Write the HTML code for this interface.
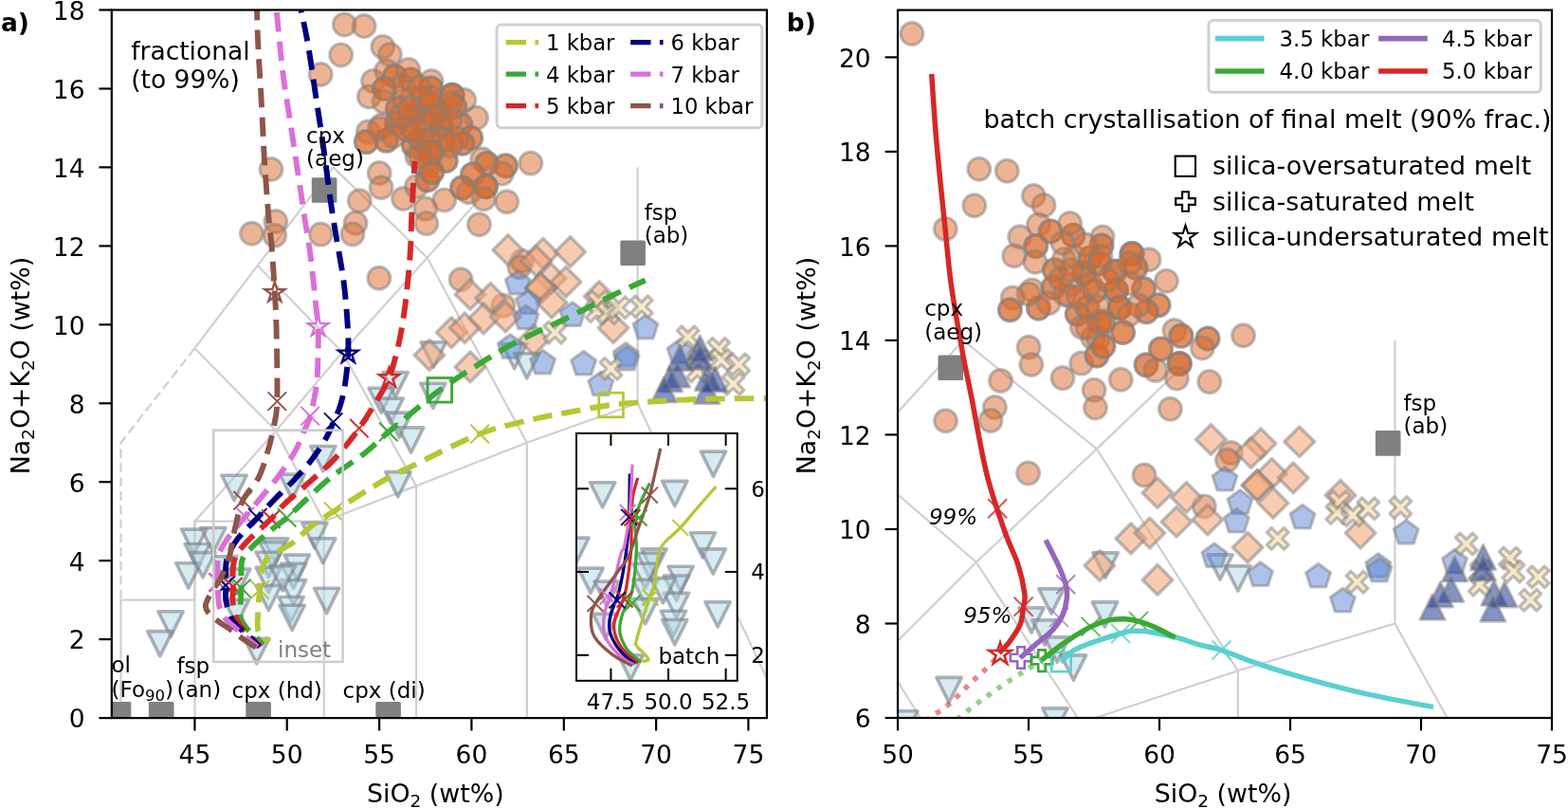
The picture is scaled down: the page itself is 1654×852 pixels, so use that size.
<!DOCTYPE html>
<html><head><meta charset="utf-8"><title>TAS diagram</title>
<style>html,body{margin:0;padding:0;background:#fff;} svg{display:block;}</style>
</head><body>
<svg width="1654" height="852" viewBox="0 0 1654 852" font-family="'DejaVu Sans', 'Liberation Sans', sans-serif">
<defs>
<clipPath id="ca"><rect x="117.8" y="10.5" width="691.1" height="746.6"/></clipPath>
<clipPath id="cb"><rect x="947.0" y="10.6" width="690.0" height="746.4"/></clipPath>
</defs>
<rect width="1654" height="852" fill="#fff"/>
<g clip-path="url(#ca)" fill="none" stroke="#cfcfcf" stroke-width="2.2" stroke-linejoin="round">
<polyline points="127.5,757.1 127.5,632.7 205.4,632.7"/>
<polyline points="205.4,757.1 205.4,549.7 341.7,549.7 341.7,757.1"/>
<polyline points="341.7,549.7 439.0,512.4 439.0,757.1"/>
<polyline points="439.0,512.4 555.8,466.8 555.8,757.1"/>
<polyline points="555.8,466.8 672.6,425.3 828.4,757.1"/>
<polyline points="672.6,425.3 672.6,176.4"/>
<polyline points="205.4,549.7 291.1,454.3 341.7,549.7"/>
<polyline points="291.1,454.3 361.1,371.4 439.0,512.4"/>
<polyline points="361.1,371.4 450.7,271.8 555.8,466.8"/>
<polyline points="205.4,367.2 291.1,454.3"/>
<polyline points="205.4,367.2 271.6,280.1 361.1,371.4"/>
<polyline points="271.6,280.1 351.4,176.4 450.7,271.8 516.9,197.1"/>
<polyline points="205.4,632.7 205.4,549.7"/>
<polyline points="205.4,367.2 127.5,466.8 127.5,632.7" stroke-dasharray="9.8,5"/>
</g>
<rect clip-path="url(#ca)" x="111.7" y="740.1" width="26.6" height="26.6" rx="1.5" fill="#808080"/>
<rect clip-path="url(#ca)" x="156.9" y="740.1" width="26.6" height="26.6" rx="1.5" fill="#808080"/>
<rect clip-path="url(#ca)" x="259.3" y="740.1" width="26.6" height="26.6" rx="1.5" fill="#808080"/>
<rect clip-path="url(#ca)" x="396.3" y="740.1" width="26.6" height="26.6" rx="1.5" fill="#808080"/>
<rect clip-path="url(#ca)" x="328.8" y="187.2" width="26.6" height="26.6" rx="1.5" fill="#808080"/>
<rect clip-path="url(#ca)" x="654.3" y="253.5" width="26.6" height="26.6" rx="1.5" fill="#808080"/>
<g clip-path="url(#cb)" fill="none" stroke="#cfcfcf" stroke-width="2.2" stroke-linejoin="round">
<polyline points="698.6,1055.6 698.6,906.3 809.0,906.3"/>
<polyline points="809.0,1055.6 809.0,806.8 1002.2,806.8 1002.2,1055.6"/>
<polyline points="1002.2,806.8 1140.2,762.0 1140.2,1055.6"/>
<polyline points="1140.2,762.0 1305.8,707.2 1305.8,1055.6"/>
<polyline points="1305.8,707.2 1471.4,657.5 1692.2,1055.6"/>
<polyline points="1471.4,657.5 1471.4,358.9"/>
<polyline points="809.0,806.8 930.4,692.3 1002.2,806.8"/>
<polyline points="930.4,692.3 1029.8,592.8 1140.2,762.0"/>
<polyline points="1029.8,592.8 1156.8,473.4 1305.8,707.2"/>
<polyline points="809.0,587.8 930.4,692.3"/>
<polyline points="809.0,587.8 902.8,483.3 1029.8,592.8"/>
<polyline points="902.8,483.3 1016.0,358.9 1156.8,473.4 1250.6,383.8"/>
<polyline points="809.0,906.3 809.0,806.8"/>
<polyline points="809.0,587.8 698.6,707.2 698.6,906.3" stroke-dasharray="9.8,5"/>
</g>
<rect clip-path="url(#cb)" x="989.5" y="374.5" width="26.6" height="26.6" rx="1.5" fill="#808080"/>
<rect clip-path="url(#cb)" x="1450.9" y="454.1" width="26.6" height="26.6" rx="1.5" fill="#808080"/>
<g clip-path="url(#ca)">
<polygon points="340.8,496.8 327.7,470.5 354.0,470.5" fill="#add8e6" fill-opacity="0.5" stroke="#7a8088" stroke-opacity="0.6" stroke-linejoin="round" stroke-width="3.6"/>
<polygon points="417.0,418.9 403.9,392.6 430.2,392.6" fill="#add8e6" fill-opacity="0.5" stroke="#7a8088" stroke-opacity="0.6" stroke-linejoin="round" stroke-width="3.6"/>
<polygon points="402.2,435.5 389.0,409.2 415.3,409.2" fill="#add8e6" fill-opacity="0.5" stroke="#7a8088" stroke-opacity="0.6" stroke-linejoin="round" stroke-width="3.6"/>
<polygon points="412.1,446.4 398.9,420.1 425.2,420.1" fill="#add8e6" fill-opacity="0.5" stroke="#7a8088" stroke-opacity="0.6" stroke-linejoin="round" stroke-width="3.6"/>
<polygon points="421.2,461.4 408.1,435.1 434.4,435.1" fill="#add8e6" fill-opacity="0.5" stroke="#7a8088" stroke-opacity="0.6" stroke-linejoin="round" stroke-width="3.6"/>
<polygon points="433.5,477.2 420.4,450.9 446.7,450.9" fill="#add8e6" fill-opacity="0.5" stroke="#7a8088" stroke-opacity="0.6" stroke-linejoin="round" stroke-width="3.6"/>
<polygon points="419.8,523.9 406.7,497.6 433.0,497.6" fill="#add8e6" fill-opacity="0.5" stroke="#7a8088" stroke-opacity="0.6" stroke-linejoin="round" stroke-width="3.6"/>
<polygon points="456.9,430.5 443.7,404.2 470.0,404.2" fill="#add8e6" fill-opacity="0.5" stroke="#7a8088" stroke-opacity="0.6" stroke-linejoin="round" stroke-width="3.6"/>
<polygon points="457.2,387.2 444.1,360.9 470.4,360.9" fill="#add8e6" fill-opacity="0.5" stroke="#7a8088" stroke-opacity="0.6" stroke-linejoin="round" stroke-width="3.6"/>
<polygon points="542.6,388.8 529.4,362.5 555.7,362.5" fill="#add8e6" fill-opacity="0.5" stroke="#7a8088" stroke-opacity="0.6" stroke-linejoin="round" stroke-width="3.6"/>
<polygon points="555.8,398.9 542.7,372.6 569.0,372.6" fill="#add8e6" fill-opacity="0.5" stroke="#7a8088" stroke-opacity="0.6" stroke-linejoin="round" stroke-width="3.6"/>
<polygon points="247.1,527.6 233.9,501.3 260.2,501.3" fill="#add8e6" fill-opacity="0.5" stroke="#7a8088" stroke-opacity="0.6" stroke-linejoin="round" stroke-width="3.6"/>
<polygon points="308.2,526.4 295.0,500.1 321.3,500.1" fill="#add8e6" fill-opacity="0.5" stroke="#7a8088" stroke-opacity="0.6" stroke-linejoin="round" stroke-width="3.6"/>
<polygon points="331.9,577.8 318.8,551.5 345.1,551.5" fill="#add8e6" fill-opacity="0.5" stroke="#7a8088" stroke-opacity="0.6" stroke-linejoin="round" stroke-width="3.6"/>
<polygon points="340.7,594.0 327.6,567.7 353.9,567.7" fill="#add8e6" fill-opacity="0.5" stroke="#7a8088" stroke-opacity="0.6" stroke-linejoin="round" stroke-width="3.6"/>
<polygon points="236.9,613.0 223.8,586.7 250.1,586.7" fill="#add8e6" fill-opacity="0.5" stroke="#7a8088" stroke-opacity="0.6" stroke-linejoin="round" stroke-width="3.6"/>
<polygon points="290.7,594.0 277.5,567.7 303.8,567.7" fill="#add8e6" fill-opacity="0.5" stroke="#7a8088" stroke-opacity="0.6" stroke-linejoin="round" stroke-width="3.6"/>
<polygon points="287.0,598.1 273.8,571.8 300.1,571.8" fill="#add8e6" fill-opacity="0.5" stroke="#7a8088" stroke-opacity="0.6" stroke-linejoin="round" stroke-width="3.6"/>
<polygon points="283.3,608.5 270.1,582.2 296.4,582.2" fill="#add8e6" fill-opacity="0.5" stroke="#7a8088" stroke-opacity="0.6" stroke-linejoin="round" stroke-width="3.6"/>
<polygon points="313.3,611.4 300.1,585.1 326.4,585.1" fill="#add8e6" fill-opacity="0.5" stroke="#7a8088" stroke-opacity="0.6" stroke-linejoin="round" stroke-width="3.6"/>
<polygon points="309.6,620.5 296.4,594.2 322.7,594.2" fill="#add8e6" fill-opacity="0.5" stroke="#7a8088" stroke-opacity="0.6" stroke-linejoin="round" stroke-width="3.6"/>
<polygon points="283.3,624.7 270.1,598.4 296.4,598.4" fill="#add8e6" fill-opacity="0.5" stroke="#7a8088" stroke-opacity="0.6" stroke-linejoin="round" stroke-width="3.6"/>
<polygon points="309.6,637.9 296.4,611.6 322.7,611.6" fill="#add8e6" fill-opacity="0.5" stroke="#7a8088" stroke-opacity="0.6" stroke-linejoin="round" stroke-width="3.6"/>
<polygon points="283.3,643.7 270.1,617.4 296.4,617.4" fill="#add8e6" fill-opacity="0.5" stroke="#7a8088" stroke-opacity="0.6" stroke-linejoin="round" stroke-width="3.6"/>
<polygon points="344.6,646.6 331.4,620.3 357.7,620.3" fill="#add8e6" fill-opacity="0.5" stroke="#7a8088" stroke-opacity="0.6" stroke-linejoin="round" stroke-width="3.6"/>
<polygon points="307.0,655.8 293.9,629.5 320.2,629.5" fill="#add8e6" fill-opacity="0.5" stroke="#7a8088" stroke-opacity="0.6" stroke-linejoin="round" stroke-width="3.6"/>
<polygon points="308.2,664.5 295.0,638.2 321.3,638.2" fill="#add8e6" fill-opacity="0.5" stroke="#7a8088" stroke-opacity="0.6" stroke-linejoin="round" stroke-width="3.6"/>
<polygon points="250.8,626.3 237.6,600.0 263.9,600.0" fill="#add8e6" fill-opacity="0.5" stroke="#7a8088" stroke-opacity="0.6" stroke-linejoin="round" stroke-width="3.6"/>
<polygon points="249.6,658.7 236.4,632.4 262.7,632.4" fill="#add8e6" fill-opacity="0.5" stroke="#7a8088" stroke-opacity="0.6" stroke-linejoin="round" stroke-width="3.6"/>
<polygon points="270.8,699.7 257.7,673.4 284.0,673.4" fill="#add8e6" fill-opacity="0.5" stroke="#7a8088" stroke-opacity="0.6" stroke-linejoin="round" stroke-width="3.6"/>
<polygon points="298.3,623.0 285.1,596.7 311.4,596.7" fill="#add8e6" fill-opacity="0.5" stroke="#7a8088" stroke-opacity="0.6" stroke-linejoin="round" stroke-width="3.6"/>
<polygon points="224.9,582.8 211.7,556.5 238.0,556.5" fill="#add8e6" fill-opacity="0.5" stroke="#7a8088" stroke-opacity="0.6" stroke-linejoin="round" stroke-width="3.6"/>
<polygon points="204.6,584.4 191.5,558.1 217.8,558.1" fill="#add8e6" fill-opacity="0.5" stroke="#7a8088" stroke-opacity="0.6" stroke-linejoin="round" stroke-width="3.6"/>
<polygon points="208.1,599.8 195.0,573.5 221.3,573.5" fill="#add8e6" fill-opacity="0.5" stroke="#7a8088" stroke-opacity="0.6" stroke-linejoin="round" stroke-width="3.6"/>
<polygon points="198.8,620.1 185.6,593.8 211.9,593.8" fill="#add8e6" fill-opacity="0.5" stroke="#7a8088" stroke-opacity="0.6" stroke-linejoin="round" stroke-width="3.6"/>
<polygon points="214.0,608.9 200.8,582.6 227.1,582.6" fill="#add8e6" fill-opacity="0.5" stroke="#7a8088" stroke-opacity="0.6" stroke-linejoin="round" stroke-width="3.6"/>
<polygon points="180.1,671.1 166.9,644.8 193.2,644.8" fill="#add8e6" fill-opacity="0.5" stroke="#7a8088" stroke-opacity="0.6" stroke-linejoin="round" stroke-width="3.6"/>
<polygon points="168.8,691.9 155.7,665.6 182.0,665.6" fill="#add8e6" fill-opacity="0.5" stroke="#7a8088" stroke-opacity="0.6" stroke-linejoin="round" stroke-width="3.6"/>
<circle cx="313.3" cy="-93.2" r="11.90" fill="#d9692c" fill-opacity="0.5" stroke="#808080" stroke-opacity="0.5" stroke-linejoin="round" stroke-width="3.2"/>
<circle cx="363.3" cy="25.9" r="11.90" fill="#d9692c" fill-opacity="0.5" stroke="#808080" stroke-opacity="0.5" stroke-linejoin="round" stroke-width="3.2"/>
<circle cx="384.1" cy="27.5" r="11.90" fill="#d9692c" fill-opacity="0.5" stroke="#808080" stroke-opacity="0.5" stroke-linejoin="round" stroke-width="3.2"/>
<circle cx="359.7" cy="57.9" r="11.90" fill="#d9692c" fill-opacity="0.5" stroke="#808080" stroke-opacity="0.5" stroke-linejoin="round" stroke-width="3.2"/>
<circle cx="338.2" cy="78.5" r="11.90" fill="#d9692c" fill-opacity="0.5" stroke="#808080" stroke-opacity="0.5" stroke-linejoin="round" stroke-width="3.2"/>
<circle cx="403.8" cy="49.4" r="11.90" fill="#d9692c" fill-opacity="0.5" stroke="#808080" stroke-opacity="0.5" stroke-linejoin="round" stroke-width="3.2"/>
<circle cx="411.4" cy="57.6" r="11.90" fill="#d9692c" fill-opacity="0.5" stroke="#808080" stroke-opacity="0.5" stroke-linejoin="round" stroke-width="3.2"/>
<circle cx="393.5" cy="85.5" r="11.90" fill="#d9692c" fill-opacity="0.5" stroke="#808080" stroke-opacity="0.5" stroke-linejoin="round" stroke-width="3.2"/>
<circle cx="389.3" cy="102.0" r="11.90" fill="#d9692c" fill-opacity="0.5" stroke="#808080" stroke-opacity="0.5" stroke-linejoin="round" stroke-width="3.2"/>
<circle cx="407.5" cy="74.7" r="11.90" fill="#d9692c" fill-opacity="0.5" stroke="#808080" stroke-opacity="0.5" stroke-linejoin="round" stroke-width="3.2"/>
<circle cx="416.4" cy="80.5" r="11.90" fill="#d9692c" fill-opacity="0.5" stroke="#808080" stroke-opacity="0.5" stroke-linejoin="round" stroke-width="3.2"/>
<circle cx="416.4" cy="80.5" r="11.90" fill="#d9692c" fill-opacity="0.5" stroke="#808080" stroke-opacity="0.5" stroke-linejoin="round" stroke-width="3.2"/>
<circle cx="433.3" cy="84.1" r="11.90" fill="#d9692c" fill-opacity="0.5" stroke="#808080" stroke-opacity="0.5" stroke-linejoin="round" stroke-width="3.2"/>
<circle cx="433.3" cy="84.1" r="11.90" fill="#d9692c" fill-opacity="0.5" stroke="#808080" stroke-opacity="0.5" stroke-linejoin="round" stroke-width="3.2"/>
<circle cx="430.8" cy="73.5" r="11.90" fill="#d9692c" fill-opacity="0.5" stroke="#808080" stroke-opacity="0.5" stroke-linejoin="round" stroke-width="3.2"/>
<circle cx="405.5" cy="93.5" r="11.90" fill="#d9692c" fill-opacity="0.5" stroke="#808080" stroke-opacity="0.5" stroke-linejoin="round" stroke-width="3.2"/>
<circle cx="405.5" cy="93.5" r="11.90" fill="#d9692c" fill-opacity="0.5" stroke="#808080" stroke-opacity="0.5" stroke-linejoin="round" stroke-width="3.2"/>
<circle cx="405.0" cy="107.5" r="11.90" fill="#d9692c" fill-opacity="0.5" stroke="#808080" stroke-opacity="0.5" stroke-linejoin="round" stroke-width="3.2"/>
<circle cx="419.4" cy="114.6" r="11.90" fill="#d9692c" fill-opacity="0.5" stroke="#808080" stroke-opacity="0.5" stroke-linejoin="round" stroke-width="3.2"/>
<circle cx="419.4" cy="114.6" r="11.90" fill="#d9692c" fill-opacity="0.5" stroke="#808080" stroke-opacity="0.5" stroke-linejoin="round" stroke-width="3.2"/>
<circle cx="418.4" cy="129.9" r="11.90" fill="#d9692c" fill-opacity="0.5" stroke="#808080" stroke-opacity="0.5" stroke-linejoin="round" stroke-width="3.2"/>
<circle cx="418.4" cy="129.9" r="11.90" fill="#d9692c" fill-opacity="0.5" stroke="#808080" stroke-opacity="0.5" stroke-linejoin="round" stroke-width="3.2"/>
<circle cx="455.1" cy="85.6" r="11.90" fill="#d9692c" fill-opacity="0.5" stroke="#808080" stroke-opacity="0.5" stroke-linejoin="round" stroke-width="3.2"/>
<circle cx="454.4" cy="93.1" r="11.90" fill="#d9692c" fill-opacity="0.5" stroke="#808080" stroke-opacity="0.5" stroke-linejoin="round" stroke-width="3.2"/>
<circle cx="454.4" cy="93.1" r="11.90" fill="#d9692c" fill-opacity="0.5" stroke="#808080" stroke-opacity="0.5" stroke-linejoin="round" stroke-width="3.2"/>
<circle cx="441.3" cy="117.0" r="11.90" fill="#d9692c" fill-opacity="0.5" stroke="#808080" stroke-opacity="0.5" stroke-linejoin="round" stroke-width="3.2"/>
<circle cx="441.3" cy="117.0" r="11.90" fill="#d9692c" fill-opacity="0.5" stroke="#808080" stroke-opacity="0.5" stroke-linejoin="round" stroke-width="3.2"/>
<circle cx="441.3" cy="117.0" r="11.90" fill="#d9692c" fill-opacity="0.5" stroke="#808080" stroke-opacity="0.5" stroke-linejoin="round" stroke-width="3.2"/>
<circle cx="464.1" cy="115.8" r="11.90" fill="#d9692c" fill-opacity="0.5" stroke="#808080" stroke-opacity="0.5" stroke-linejoin="round" stroke-width="3.2"/>
<circle cx="464.1" cy="115.8" r="11.90" fill="#d9692c" fill-opacity="0.5" stroke="#808080" stroke-opacity="0.5" stroke-linejoin="round" stroke-width="3.2"/>
<circle cx="464.1" cy="115.8" r="11.90" fill="#d9692c" fill-opacity="0.5" stroke="#808080" stroke-opacity="0.5" stroke-linejoin="round" stroke-width="3.2"/>
<circle cx="465.1" cy="132.2" r="11.90" fill="#d9692c" fill-opacity="0.5" stroke="#808080" stroke-opacity="0.5" stroke-linejoin="round" stroke-width="3.2"/>
<circle cx="465.1" cy="132.2" r="11.90" fill="#d9692c" fill-opacity="0.5" stroke="#808080" stroke-opacity="0.5" stroke-linejoin="round" stroke-width="3.2"/>
<circle cx="465.1" cy="132.2" r="11.90" fill="#d9692c" fill-opacity="0.5" stroke="#808080" stroke-opacity="0.5" stroke-linejoin="round" stroke-width="3.2"/>
<circle cx="407.5" cy="148.1" r="11.90" fill="#d9692c" fill-opacity="0.5" stroke="#808080" stroke-opacity="0.5" stroke-linejoin="round" stroke-width="3.2"/>
<circle cx="407.5" cy="148.1" r="11.90" fill="#d9692c" fill-opacity="0.5" stroke="#808080" stroke-opacity="0.5" stroke-linejoin="round" stroke-width="3.2"/>
<circle cx="402.5" cy="132.2" r="11.90" fill="#d9692c" fill-opacity="0.5" stroke="#808080" stroke-opacity="0.5" stroke-linejoin="round" stroke-width="3.2"/>
<circle cx="436.3" cy="153.4" r="11.90" fill="#d9692c" fill-opacity="0.5" stroke="#808080" stroke-opacity="0.5" stroke-linejoin="round" stroke-width="3.2"/>
<circle cx="436.3" cy="153.4" r="11.90" fill="#d9692c" fill-opacity="0.5" stroke="#808080" stroke-opacity="0.5" stroke-linejoin="round" stroke-width="3.2"/>
<circle cx="467.9" cy="147.7" r="11.90" fill="#d9692c" fill-opacity="0.5" stroke="#808080" stroke-opacity="0.5" stroke-linejoin="round" stroke-width="3.2"/>
<circle cx="467.9" cy="147.7" r="11.90" fill="#d9692c" fill-opacity="0.5" stroke="#808080" stroke-opacity="0.5" stroke-linejoin="round" stroke-width="3.2"/>
<circle cx="467.9" cy="147.7" r="11.90" fill="#d9692c" fill-opacity="0.5" stroke="#808080" stroke-opacity="0.5" stroke-linejoin="round" stroke-width="3.2"/>
<circle cx="449.2" cy="133.4" r="11.90" fill="#d9692c" fill-opacity="0.5" stroke="#808080" stroke-opacity="0.5" stroke-linejoin="round" stroke-width="3.2"/>
<circle cx="449.2" cy="133.4" r="11.90" fill="#d9692c" fill-opacity="0.5" stroke="#808080" stroke-opacity="0.5" stroke-linejoin="round" stroke-width="3.2"/>
<circle cx="477.0" cy="100.2" r="11.90" fill="#d9692c" fill-opacity="0.5" stroke="#808080" stroke-opacity="0.5" stroke-linejoin="round" stroke-width="3.2"/>
<circle cx="477.0" cy="100.2" r="11.90" fill="#d9692c" fill-opacity="0.5" stroke="#808080" stroke-opacity="0.5" stroke-linejoin="round" stroke-width="3.2"/>
<circle cx="477.0" cy="100.2" r="11.90" fill="#d9692c" fill-opacity="0.5" stroke="#808080" stroke-opacity="0.5" stroke-linejoin="round" stroke-width="3.2"/>
<circle cx="426.4" cy="105.2" r="11.90" fill="#d9692c" fill-opacity="0.5" stroke="#808080" stroke-opacity="0.5" stroke-linejoin="round" stroke-width="3.2"/>
<circle cx="434.3" cy="102.9" r="11.90" fill="#d9692c" fill-opacity="0.5" stroke="#808080" stroke-opacity="0.5" stroke-linejoin="round" stroke-width="3.2"/>
<circle cx="445.9" cy="104.0" r="11.90" fill="#d9692c" fill-opacity="0.5" stroke="#808080" stroke-opacity="0.5" stroke-linejoin="round" stroke-width="3.2"/>
<circle cx="445.9" cy="104.0" r="11.90" fill="#d9692c" fill-opacity="0.5" stroke="#808080" stroke-opacity="0.5" stroke-linejoin="round" stroke-width="3.2"/>
<circle cx="453.0" cy="109.0" r="11.90" fill="#d9692c" fill-opacity="0.5" stroke="#808080" stroke-opacity="0.5" stroke-linejoin="round" stroke-width="3.2"/>
<circle cx="453.0" cy="109.0" r="11.90" fill="#d9692c" fill-opacity="0.5" stroke="#808080" stroke-opacity="0.5" stroke-linejoin="round" stroke-width="3.2"/>
<circle cx="425.5" cy="90.9" r="11.90" fill="#d9692c" fill-opacity="0.5" stroke="#808080" stroke-opacity="0.5" stroke-linejoin="round" stroke-width="3.2"/>
<circle cx="430.4" cy="137.3" r="11.90" fill="#d9692c" fill-opacity="0.5" stroke="#808080" stroke-opacity="0.5" stroke-linejoin="round" stroke-width="3.2"/>
<circle cx="431.8" cy="127.3" r="11.90" fill="#d9692c" fill-opacity="0.5" stroke="#808080" stroke-opacity="0.5" stroke-linejoin="round" stroke-width="3.2"/>
<circle cx="489.7" cy="105.5" r="11.90" fill="#d9692c" fill-opacity="0.5" stroke="#808080" stroke-opacity="0.5" stroke-linejoin="round" stroke-width="3.2"/>
<circle cx="502.6" cy="124.2" r="11.90" fill="#d9692c" fill-opacity="0.5" stroke="#808080" stroke-opacity="0.5" stroke-linejoin="round" stroke-width="3.2"/>
<circle cx="485.8" cy="131.3" r="11.90" fill="#d9692c" fill-opacity="0.5" stroke="#808080" stroke-opacity="0.5" stroke-linejoin="round" stroke-width="3.2"/>
<circle cx="485.8" cy="131.3" r="11.90" fill="#d9692c" fill-opacity="0.5" stroke="#808080" stroke-opacity="0.5" stroke-linejoin="round" stroke-width="3.2"/>
<circle cx="496.7" cy="145.4" r="11.90" fill="#d9692c" fill-opacity="0.5" stroke="#808080" stroke-opacity="0.5" stroke-linejoin="round" stroke-width="3.2"/>
<circle cx="496.7" cy="145.4" r="11.90" fill="#d9692c" fill-opacity="0.5" stroke="#808080" stroke-opacity="0.5" stroke-linejoin="round" stroke-width="3.2"/>
<circle cx="487.8" cy="151.2" r="11.90" fill="#d9692c" fill-opacity="0.5" stroke="#808080" stroke-opacity="0.5" stroke-linejoin="round" stroke-width="3.2"/>
<circle cx="487.8" cy="151.2" r="11.90" fill="#d9692c" fill-opacity="0.5" stroke="#808080" stroke-opacity="0.5" stroke-linejoin="round" stroke-width="3.2"/>
<circle cx="470.3" cy="169.4" r="11.90" fill="#d9692c" fill-opacity="0.5" stroke="#808080" stroke-opacity="0.5" stroke-linejoin="round" stroke-width="3.2"/>
<circle cx="470.3" cy="169.4" r="11.90" fill="#d9692c" fill-opacity="0.5" stroke="#808080" stroke-opacity="0.5" stroke-linejoin="round" stroke-width="3.2"/>
<circle cx="455.9" cy="159.5" r="11.90" fill="#d9692c" fill-opacity="0.5" stroke="#808080" stroke-opacity="0.5" stroke-linejoin="round" stroke-width="3.2"/>
<circle cx="508.6" cy="167.7" r="11.90" fill="#d9692c" fill-opacity="0.5" stroke="#808080" stroke-opacity="0.5" stroke-linejoin="round" stroke-width="3.2"/>
<circle cx="513.6" cy="172.4" r="11.90" fill="#d9692c" fill-opacity="0.5" stroke="#808080" stroke-opacity="0.5" stroke-linejoin="round" stroke-width="3.2"/>
<circle cx="513.6" cy="172.4" r="11.90" fill="#d9692c" fill-opacity="0.5" stroke="#808080" stroke-opacity="0.5" stroke-linejoin="round" stroke-width="3.2"/>
<circle cx="533.4" cy="174.8" r="11.90" fill="#d9692c" fill-opacity="0.5" stroke="#808080" stroke-opacity="0.5" stroke-linejoin="round" stroke-width="3.2"/>
<circle cx="533.4" cy="174.8" r="11.90" fill="#d9692c" fill-opacity="0.5" stroke="#808080" stroke-opacity="0.5" stroke-linejoin="round" stroke-width="3.2"/>
<circle cx="529.4" cy="183.1" r="11.90" fill="#d9692c" fill-opacity="0.5" stroke="#808080" stroke-opacity="0.5" stroke-linejoin="round" stroke-width="3.2"/>
<circle cx="479.8" cy="112.5" r="11.90" fill="#d9692c" fill-opacity="0.5" stroke="#808080" stroke-opacity="0.5" stroke-linejoin="round" stroke-width="3.2"/>
<circle cx="479.8" cy="112.5" r="11.90" fill="#d9692c" fill-opacity="0.5" stroke="#808080" stroke-opacity="0.5" stroke-linejoin="round" stroke-width="3.2"/>
<circle cx="388.2" cy="139.1" r="11.90" fill="#d9692c" fill-opacity="0.5" stroke="#808080" stroke-opacity="0.5" stroke-linejoin="round" stroke-width="3.2"/>
<circle cx="386.3" cy="149.6" r="11.90" fill="#d9692c" fill-opacity="0.5" stroke="#808080" stroke-opacity="0.5" stroke-linejoin="round" stroke-width="3.2"/>
<circle cx="386.3" cy="149.6" r="11.90" fill="#d9692c" fill-opacity="0.5" stroke="#808080" stroke-opacity="0.5" stroke-linejoin="round" stroke-width="3.2"/>
<circle cx="400.2" cy="135.6" r="11.90" fill="#d9692c" fill-opacity="0.5" stroke="#808080" stroke-opacity="0.5" stroke-linejoin="round" stroke-width="3.2"/>
<circle cx="415.0" cy="143.7" r="11.90" fill="#d9692c" fill-opacity="0.5" stroke="#808080" stroke-opacity="0.5" stroke-linejoin="round" stroke-width="3.2"/>
<circle cx="439.9" cy="164.9" r="11.90" fill="#d9692c" fill-opacity="0.5" stroke="#808080" stroke-opacity="0.5" stroke-linejoin="round" stroke-width="3.2"/>
<circle cx="447.8" cy="174.2" r="11.90" fill="#d9692c" fill-opacity="0.5" stroke="#808080" stroke-opacity="0.5" stroke-linejoin="round" stroke-width="3.2"/>
<circle cx="400.2" cy="182.5" r="11.90" fill="#d9692c" fill-opacity="0.5" stroke="#808080" stroke-opacity="0.5" stroke-linejoin="round" stroke-width="3.2"/>
<circle cx="402.1" cy="197.7" r="11.90" fill="#d9692c" fill-opacity="0.5" stroke="#808080" stroke-opacity="0.5" stroke-linejoin="round" stroke-width="3.2"/>
<circle cx="379.3" cy="211.8" r="11.90" fill="#d9692c" fill-opacity="0.5" stroke="#808080" stroke-opacity="0.5" stroke-linejoin="round" stroke-width="3.2"/>
<circle cx="425.5" cy="209.5" r="11.90" fill="#d9692c" fill-opacity="0.5" stroke="#808080" stroke-opacity="0.5" stroke-linejoin="round" stroke-width="3.2"/>
<circle cx="439.4" cy="196.6" r="11.90" fill="#d9692c" fill-opacity="0.5" stroke="#808080" stroke-opacity="0.5" stroke-linejoin="round" stroke-width="3.2"/>
<circle cx="450.9" cy="189.8" r="11.90" fill="#d9692c" fill-opacity="0.5" stroke="#808080" stroke-opacity="0.5" stroke-linejoin="round" stroke-width="3.2"/>
<circle cx="450.9" cy="189.8" r="11.90" fill="#d9692c" fill-opacity="0.5" stroke="#808080" stroke-opacity="0.5" stroke-linejoin="round" stroke-width="3.2"/>
<circle cx="448.8" cy="220.1" r="11.90" fill="#d9692c" fill-opacity="0.5" stroke="#808080" stroke-opacity="0.5" stroke-linejoin="round" stroke-width="3.2"/>
<circle cx="443.8" cy="147.5" r="11.90" fill="#d9692c" fill-opacity="0.5" stroke="#808080" stroke-opacity="0.5" stroke-linejoin="round" stroke-width="3.2"/>
<circle cx="443.8" cy="147.5" r="11.90" fill="#d9692c" fill-opacity="0.5" stroke="#808080" stroke-opacity="0.5" stroke-linejoin="round" stroke-width="3.2"/>
<circle cx="452.8" cy="160.4" r="11.90" fill="#d9692c" fill-opacity="0.5" stroke="#808080" stroke-opacity="0.5" stroke-linejoin="round" stroke-width="3.2"/>
<circle cx="452.8" cy="160.4" r="11.90" fill="#d9692c" fill-opacity="0.5" stroke="#808080" stroke-opacity="0.5" stroke-linejoin="round" stroke-width="3.2"/>
<circle cx="451.8" cy="174.5" r="11.90" fill="#d9692c" fill-opacity="0.5" stroke="#808080" stroke-opacity="0.5" stroke-linejoin="round" stroke-width="3.2"/>
<circle cx="455.7" cy="181.6" r="11.90" fill="#d9692c" fill-opacity="0.5" stroke="#808080" stroke-opacity="0.5" stroke-linejoin="round" stroke-width="3.2"/>
<circle cx="455.7" cy="181.6" r="11.90" fill="#d9692c" fill-opacity="0.5" stroke="#808080" stroke-opacity="0.5" stroke-linejoin="round" stroke-width="3.2"/>
<circle cx="498.5" cy="183.9" r="11.90" fill="#d9692c" fill-opacity="0.5" stroke="#808080" stroke-opacity="0.5" stroke-linejoin="round" stroke-width="3.2"/>
<circle cx="498.5" cy="183.9" r="11.90" fill="#d9692c" fill-opacity="0.5" stroke="#808080" stroke-opacity="0.5" stroke-linejoin="round" stroke-width="3.2"/>
<circle cx="487.5" cy="198.0" r="11.90" fill="#d9692c" fill-opacity="0.5" stroke="#808080" stroke-opacity="0.5" stroke-linejoin="round" stroke-width="3.2"/>
<circle cx="487.5" cy="198.0" r="11.90" fill="#d9692c" fill-opacity="0.5" stroke="#808080" stroke-opacity="0.5" stroke-linejoin="round" stroke-width="3.2"/>
<circle cx="494.5" cy="202.7" r="11.90" fill="#d9692c" fill-opacity="0.5" stroke="#808080" stroke-opacity="0.5" stroke-linejoin="round" stroke-width="3.2"/>
<circle cx="512.4" cy="196.8" r="11.90" fill="#d9692c" fill-opacity="0.5" stroke="#808080" stroke-opacity="0.5" stroke-linejoin="round" stroke-width="3.2"/>
<circle cx="512.4" cy="196.8" r="11.90" fill="#d9692c" fill-opacity="0.5" stroke="#808080" stroke-opacity="0.5" stroke-linejoin="round" stroke-width="3.2"/>
<circle cx="512.4" cy="196.8" r="11.90" fill="#d9692c" fill-opacity="0.5" stroke="#808080" stroke-opacity="0.5" stroke-linejoin="round" stroke-width="3.2"/>
<circle cx="510.4" cy="209.7" r="11.90" fill="#d9692c" fill-opacity="0.5" stroke="#808080" stroke-opacity="0.5" stroke-linejoin="round" stroke-width="3.2"/>
<circle cx="468.7" cy="210.9" r="11.90" fill="#d9692c" fill-opacity="0.5" stroke="#808080" stroke-opacity="0.5" stroke-linejoin="round" stroke-width="3.2"/>
<circle cx="449.8" cy="235.6" r="11.90" fill="#d9692c" fill-opacity="0.5" stroke="#808080" stroke-opacity="0.5" stroke-linejoin="round" stroke-width="3.2"/>
<circle cx="505.5" cy="236.7" r="11.90" fill="#d9692c" fill-opacity="0.5" stroke="#808080" stroke-opacity="0.5" stroke-linejoin="round" stroke-width="3.2"/>
<circle cx="375.0" cy="235.2" r="11.90" fill="#d9692c" fill-opacity="0.5" stroke="#808080" stroke-opacity="0.5" stroke-linejoin="round" stroke-width="3.2"/>
<circle cx="371.9" cy="246.9" r="11.90" fill="#d9692c" fill-opacity="0.5" stroke="#808080" stroke-opacity="0.5" stroke-linejoin="round" stroke-width="3.2"/>
<circle cx="338.4" cy="247.1" r="11.90" fill="#d9692c" fill-opacity="0.5" stroke="#808080" stroke-opacity="0.5" stroke-linejoin="round" stroke-width="3.2"/>
<circle cx="399.8" cy="293.2" r="11.90" fill="#d9692c" fill-opacity="0.5" stroke="#808080" stroke-opacity="0.5" stroke-linejoin="round" stroke-width="3.2"/>
<circle cx="486.1" cy="294.8" r="11.90" fill="#d9692c" fill-opacity="0.5" stroke="#808080" stroke-opacity="0.5" stroke-linejoin="round" stroke-width="3.2"/>
<circle cx="550.7" cy="275.3" r="11.90" fill="#d9692c" fill-opacity="0.5" stroke="#808080" stroke-opacity="0.5" stroke-linejoin="round" stroke-width="3.2"/>
<circle cx="547.9" cy="281.7" r="11.90" fill="#d9692c" fill-opacity="0.5" stroke="#808080" stroke-opacity="0.5" stroke-linejoin="round" stroke-width="3.2"/>
<circle cx="530.8" cy="322.3" r="11.90" fill="#d9692c" fill-opacity="0.5" stroke="#808080" stroke-opacity="0.5" stroke-linejoin="round" stroke-width="3.2"/>
<circle cx="559.8" cy="172.1" r="11.90" fill="#d9692c" fill-opacity="0.5" stroke="#808080" stroke-opacity="0.5" stroke-linejoin="round" stroke-width="3.2"/>
<circle cx="534.7" cy="212.8" r="11.90" fill="#d9692c" fill-opacity="0.5" stroke="#808080" stroke-opacity="0.5" stroke-linejoin="round" stroke-width="3.2"/>
<circle cx="453.7" cy="102.3" r="11.90" fill="#d9692c" fill-opacity="0.5" stroke="#808080" stroke-opacity="0.5" stroke-linejoin="round" stroke-width="3.2"/>
<circle cx="475.2" cy="108.5" r="11.90" fill="#d9692c" fill-opacity="0.5" stroke="#808080" stroke-opacity="0.5" stroke-linejoin="round" stroke-width="3.2"/>
<circle cx="452.0" cy="147.6" r="11.90" fill="#d9692c" fill-opacity="0.5" stroke="#808080" stroke-opacity="0.5" stroke-linejoin="round" stroke-width="3.2"/>
<circle cx="475.2" cy="126.1" r="11.90" fill="#d9692c" fill-opacity="0.5" stroke="#808080" stroke-opacity="0.5" stroke-linejoin="round" stroke-width="3.2"/>
<circle cx="445.9" cy="127.3" r="11.90" fill="#d9692c" fill-opacity="0.5" stroke="#808080" stroke-opacity="0.5" stroke-linejoin="round" stroke-width="3.2"/>
<circle cx="427.2" cy="135.9" r="11.90" fill="#d9692c" fill-opacity="0.5" stroke="#808080" stroke-opacity="0.5" stroke-linejoin="round" stroke-width="3.2"/>
<circle cx="437.1" cy="137.9" r="11.90" fill="#d9692c" fill-opacity="0.5" stroke="#808080" stroke-opacity="0.5" stroke-linejoin="round" stroke-width="3.2"/>
<circle cx="423.9" cy="122.2" r="11.90" fill="#d9692c" fill-opacity="0.5" stroke="#808080" stroke-opacity="0.5" stroke-linejoin="round" stroke-width="3.2"/>
<circle cx="481.8" cy="145.6" r="11.90" fill="#d9692c" fill-opacity="0.5" stroke="#808080" stroke-opacity="0.5" stroke-linejoin="round" stroke-width="3.2"/>
<circle cx="475.2" cy="153.6" r="11.90" fill="#d9692c" fill-opacity="0.5" stroke="#808080" stroke-opacity="0.5" stroke-linejoin="round" stroke-width="3.2"/>
<circle cx="455.3" cy="161.3" r="11.90" fill="#d9692c" fill-opacity="0.5" stroke="#808080" stroke-opacity="0.5" stroke-linejoin="round" stroke-width="3.2"/>
<circle cx="443.7" cy="165.2" r="11.90" fill="#d9692c" fill-opacity="0.5" stroke="#808080" stroke-opacity="0.5" stroke-linejoin="round" stroke-width="3.2"/>
<circle cx="431.8" cy="114.8" r="11.90" fill="#d9692c" fill-opacity="0.5" stroke="#808080" stroke-opacity="0.5" stroke-linejoin="round" stroke-width="3.2"/>
<circle cx="458.6" cy="123.1" r="11.90" fill="#d9692c" fill-opacity="0.5" stroke="#808080" stroke-opacity="0.5" stroke-linejoin="round" stroke-width="3.2"/>
<circle cx="442.4" cy="92.3" r="11.90" fill="#d9692c" fill-opacity="0.5" stroke="#808080" stroke-opacity="0.5" stroke-linejoin="round" stroke-width="3.2"/>
<circle cx="286.0" cy="178.5" r="11.90" fill="#d9692c" fill-opacity="0.5" stroke="#808080" stroke-opacity="0.5" stroke-linejoin="round" stroke-width="3.2"/>
<circle cx="290.8" cy="233.5" r="11.90" fill="#d9692c" fill-opacity="0.5" stroke="#808080" stroke-opacity="0.5" stroke-linejoin="round" stroke-width="3.2"/>
<circle cx="289.8" cy="248.3" r="11.90" fill="#d9692c" fill-opacity="0.5" stroke="#808080" stroke-opacity="0.5" stroke-linejoin="round" stroke-width="3.2"/>
<circle cx="265.5" cy="246.2" r="11.90" fill="#d9692c" fill-opacity="0.5" stroke="#808080" stroke-opacity="0.5" stroke-linejoin="round" stroke-width="3.2"/>
<polygon points="535.8,247.8 551.6,263.6 535.8,279.4 520.0,263.6" fill="#f4a070" fill-opacity="0.55" stroke="#808080" stroke-opacity="0.5" stroke-linejoin="round" stroke-width="3.6"/>
<polygon points="572.9,251.4 588.7,267.2 572.9,283.0 557.1,267.2" fill="#f4a070" fill-opacity="0.55" stroke="#808080" stroke-opacity="0.5" stroke-linejoin="round" stroke-width="3.6"/>
<polygon points="601.6,249.7 617.4,265.5 601.6,281.3 585.8,265.5" fill="#f4a070" fill-opacity="0.55" stroke="#808080" stroke-opacity="0.5" stroke-linejoin="round" stroke-width="3.6"/>
<polygon points="565.6,259.4 581.4,275.2 565.6,291.0 549.8,275.2" fill="#f4a070" fill-opacity="0.55" stroke="#808080" stroke-opacity="0.5" stroke-linejoin="round" stroke-width="3.6"/>
<polygon points="581.1,277.7 596.9,293.5 581.1,309.3 565.3,293.5" fill="#f4a070" fill-opacity="0.55" stroke="#808080" stroke-opacity="0.5" stroke-linejoin="round" stroke-width="3.6"/>
<polygon points="597.0,281.5 612.8,297.3 597.0,313.1 581.2,297.3" fill="#f4a070" fill-opacity="0.55" stroke="#808080" stroke-opacity="0.5" stroke-linejoin="round" stroke-width="3.6"/>
<polygon points="570.2,288.0 586.0,303.8 570.2,319.6 554.4,303.8" fill="#f4a070" fill-opacity="0.55" stroke="#808080" stroke-opacity="0.5" stroke-linejoin="round" stroke-width="3.6"/>
<polygon points="570.2,288.0 586.0,303.8 570.2,319.6 554.4,303.8" fill="#f4a070" fill-opacity="0.55" stroke="#808080" stroke-opacity="0.5" stroke-linejoin="round" stroke-width="3.6"/>
<polygon points="582.0,303.5 597.8,319.3 582.0,335.1 566.2,319.3" fill="#f4a070" fill-opacity="0.55" stroke="#808080" stroke-opacity="0.5" stroke-linejoin="round" stroke-width="3.6"/>
<polygon points="496.0,294.7 511.8,310.5 496.0,326.3 480.2,310.5" fill="#f4a070" fill-opacity="0.55" stroke="#808080" stroke-opacity="0.5" stroke-linejoin="round" stroke-width="3.6"/>
<polygon points="517.5,298.6 533.3,314.4 517.5,330.2 501.7,314.4" fill="#f4a070" fill-opacity="0.55" stroke="#808080" stroke-opacity="0.5" stroke-linejoin="round" stroke-width="3.6"/>
<polygon points="510.1,320.1 525.9,335.9 510.1,351.7 494.3,335.9" fill="#f4a070" fill-opacity="0.55" stroke="#808080" stroke-opacity="0.5" stroke-linejoin="round" stroke-width="3.6"/>
<polygon points="533.2,318.2 549.0,334.0 533.2,349.8 517.4,334.0" fill="#f4a070" fill-opacity="0.55" stroke="#808080" stroke-opacity="0.5" stroke-linejoin="round" stroke-width="3.6"/>
<polygon points="476.2,334.8 492.0,350.6 476.2,366.4 460.4,350.6" fill="#f4a070" fill-opacity="0.55" stroke="#808080" stroke-opacity="0.5" stroke-linejoin="round" stroke-width="3.6"/>
<polygon points="490.2,330.0 506.0,345.8 490.2,361.6 474.4,345.8" fill="#f4a070" fill-opacity="0.55" stroke="#808080" stroke-opacity="0.5" stroke-linejoin="round" stroke-width="3.6"/>
<polygon points="563.1,342.6 578.9,358.4 563.1,374.2 547.3,358.4" fill="#f4a070" fill-opacity="0.55" stroke="#808080" stroke-opacity="0.5" stroke-linejoin="round" stroke-width="3.6"/>
<polygon points="496.0,371.1 511.8,386.9 496.0,402.7 480.2,386.9" fill="#f4a070" fill-opacity="0.55" stroke="#808080" stroke-opacity="0.5" stroke-linejoin="round" stroke-width="3.6"/>
<polygon points="632.1,296.7 647.9,312.5 632.1,328.3 616.3,312.5" fill="#f4a070" fill-opacity="0.55" stroke="#808080" stroke-opacity="0.5" stroke-linejoin="round" stroke-width="3.6"/>
<polygon points="647.0,330.0 662.8,345.8 647.0,361.6 631.2,345.8" fill="#f4a070" fill-opacity="0.55" stroke="#808080" stroke-opacity="0.5" stroke-linejoin="round" stroke-width="3.6"/>
<polygon points="452.9,358.6 468.7,374.4 452.9,390.2 437.1,374.4" fill="#f4a070" fill-opacity="0.55" stroke="#808080" stroke-opacity="0.5" stroke-linejoin="round" stroke-width="3.6"/>
<polygon points="546.1,285.4 559.0,294.8 554.1,310.0 538.1,310.0 533.2,294.8" fill="#5a84d6" fill-opacity="0.5" stroke="#808080" stroke-opacity="0.5" stroke-linejoin="round" stroke-width="3.2"/>
<polygon points="557.4,305.7 570.3,315.1 565.4,330.4 549.4,330.4 544.4,315.1" fill="#5a84d6" fill-opacity="0.5" stroke="#808080" stroke-opacity="0.5" stroke-linejoin="round" stroke-width="3.2"/>
<polygon points="554.8,322.1 567.8,331.5 562.8,346.7 546.8,346.7 541.9,331.5" fill="#5a84d6" fill-opacity="0.5" stroke="#808080" stroke-opacity="0.5" stroke-linejoin="round" stroke-width="3.2"/>
<polygon points="538.3,352.7 551.2,362.1 546.3,377.3 530.3,377.3 525.3,362.1" fill="#5a84d6" fill-opacity="0.5" stroke="#808080" stroke-opacity="0.5" stroke-linejoin="round" stroke-width="3.2"/>
<polygon points="572.5,369.2 585.5,378.6 580.5,393.8 564.5,393.8 559.6,378.6" fill="#5a84d6" fill-opacity="0.5" stroke="#808080" stroke-opacity="0.5" stroke-linejoin="round" stroke-width="3.2"/>
<polygon points="603.9,318.8 616.9,328.2 611.9,343.4 595.9,343.4 591.0,328.2" fill="#5a84d6" fill-opacity="0.5" stroke="#808080" stroke-opacity="0.5" stroke-linejoin="round" stroke-width="3.2"/>
<polygon points="680.9,332.2 693.9,341.6 688.9,356.8 673.0,356.8 668.0,341.6" fill="#5a84d6" fill-opacity="0.5" stroke="#808080" stroke-opacity="0.5" stroke-linejoin="round" stroke-width="3.2"/>
<polygon points="615.6,370.4 628.6,379.8 623.6,395.0 607.6,395.0 602.7,379.8" fill="#5a84d6" fill-opacity="0.5" stroke="#808080" stroke-opacity="0.5" stroke-linejoin="round" stroke-width="3.2"/>
<polygon points="660.2,361.5 673.1,370.9 668.2,386.1 652.2,386.1 647.3,370.9" fill="#5a84d6" fill-opacity="0.5" stroke="#808080" stroke-opacity="0.5" stroke-linejoin="round" stroke-width="3.2"/>
<polygon points="661.1,365.4 674.0,374.8 669.1,390.0 653.1,390.0 648.1,374.8" fill="#5a84d6" fill-opacity="0.5" stroke="#808080" stroke-opacity="0.5" stroke-linejoin="round" stroke-width="3.2"/>
<polygon points="633.8,392.1 646.7,401.5 641.8,416.7 625.8,416.7 620.8,401.5" fill="#5a84d6" fill-opacity="0.5" stroke="#808080" stroke-opacity="0.5" stroke-linejoin="round" stroke-width="3.2"/>
<polygon points="717.1,357.9 730.1,367.3 725.1,382.5 709.1,382.5 704.2,367.3" fill="#5a84d6" fill-opacity="0.5" stroke="#808080" stroke-opacity="0.5" stroke-linejoin="round" stroke-width="3.2"/>
<polygon points="578.8,339.2 585.4,345.8 592.0,339.2 596.8,344.0 590.2,350.6 596.8,357.2 592.0,362.0 585.4,355.4 578.8,362.0 574.0,357.2 580.6,350.6 574.0,344.0" fill="#f5deb3" fill-opacity="0.7" stroke="#808080" stroke-opacity="0.5" stroke-linejoin="round" stroke-width="3.2"/>
<polygon points="624.7,306.9 631.3,313.5 637.9,306.9 642.7,311.7 636.1,318.3 642.7,324.9 637.9,329.7 631.3,323.1 624.7,329.7 619.9,324.9 626.5,318.3 619.9,311.7" fill="#f5deb3" fill-opacity="0.7" stroke="#808080" stroke-opacity="0.5" stroke-linejoin="round" stroke-width="3.2"/>
<polygon points="623.0,316.7 629.6,323.3 636.2,316.7 641.0,321.5 634.4,328.1 641.0,334.7 636.2,339.5 629.6,332.9 623.0,339.5 618.2,334.7 624.8,328.1 618.2,321.5" fill="#f5deb3" fill-opacity="0.7" stroke="#808080" stroke-opacity="0.5" stroke-linejoin="round" stroke-width="3.2"/>
<polygon points="634.6,318.7 641.2,325.3 647.8,318.7 652.6,323.5 646.0,330.1 652.6,336.7 647.8,341.5 641.2,334.9 634.6,341.5 629.8,336.7 636.4,330.1 629.8,323.5" fill="#f5deb3" fill-opacity="0.7" stroke="#808080" stroke-opacity="0.5" stroke-linejoin="round" stroke-width="3.2"/>
<polygon points="646.2,312.8 652.8,319.4 659.4,312.8 664.2,317.6 657.6,324.2 664.2,330.8 659.4,335.6 652.8,329.0 646.2,335.6 641.4,330.8 648.0,324.2 641.4,317.6" fill="#f5deb3" fill-opacity="0.7" stroke="#808080" stroke-opacity="0.5" stroke-linejoin="round" stroke-width="3.2"/>
<polygon points="670.2,311.9 676.8,318.5 683.4,311.9 688.2,316.7 681.6,323.3 688.2,329.9 683.4,334.7 676.8,328.1 670.2,334.7 665.4,329.9 672.0,323.3 665.4,316.7" fill="#f5deb3" fill-opacity="0.7" stroke="#808080" stroke-opacity="0.5" stroke-linejoin="round" stroke-width="3.2"/>
<polygon points="637.9,377.4 644.5,384.0 651.1,377.4 655.9,382.2 649.3,388.8 655.9,395.4 651.1,400.2 644.5,393.6 637.9,400.2 633.1,395.4 639.7,388.8 633.1,382.2" fill="#f5deb3" fill-opacity="0.7" stroke="#808080" stroke-opacity="0.5" stroke-linejoin="round" stroke-width="3.2"/>
<polygon points="719.1,343.9 725.7,350.5 732.3,343.9 737.1,348.7 730.5,355.3 737.1,361.9 732.3,366.7 725.7,360.1 719.1,366.7 714.3,361.9 720.9,355.3 714.3,348.7" fill="#f5deb3" fill-opacity="0.7" stroke="#808080" stroke-opacity="0.5" stroke-linejoin="round" stroke-width="3.2"/>
<polygon points="751.6,356.4 758.2,363.0 764.8,356.4 769.6,361.2 763.0,367.8 769.6,374.4 764.8,379.2 758.2,372.6 751.6,379.2 746.8,374.4 753.4,367.8 746.8,361.2" fill="#f5deb3" fill-opacity="0.7" stroke="#808080" stroke-opacity="0.5" stroke-linejoin="round" stroke-width="3.2"/>
<polygon points="754.2,368.1 760.8,374.7 767.4,368.1 772.2,372.9 765.6,379.5 772.2,386.1 767.4,390.9 760.8,384.3 754.2,390.9 749.4,386.1 756.0,379.5 749.4,372.9" fill="#f5deb3" fill-opacity="0.7" stroke="#808080" stroke-opacity="0.5" stroke-linejoin="round" stroke-width="3.2"/>
<polygon points="772.7,372.9 779.3,379.5 785.9,372.9 790.7,377.7 784.1,384.3 790.7,390.9 785.9,395.7 779.3,389.1 772.7,395.7 767.9,390.9 774.5,384.3 767.9,377.7" fill="#f5deb3" fill-opacity="0.7" stroke="#808080" stroke-opacity="0.5" stroke-linejoin="round" stroke-width="3.2"/>
<polygon points="766.8,393.2 773.4,399.8 780.0,393.2 784.8,398.0 778.2,404.6 784.8,411.2 780.0,416.0 773.4,409.4 766.8,416.0 762.0,411.2 768.6,404.6 762.0,398.0" fill="#f5deb3" fill-opacity="0.7" stroke="#808080" stroke-opacity="0.5" stroke-linejoin="round" stroke-width="3.2"/>
<polygon points="729.1,379.9 735.7,386.5 742.3,379.9 747.1,384.7 740.5,391.3 747.1,397.9 742.3,402.7 735.7,396.1 729.1,402.7 724.3,397.9 730.9,391.3 724.3,384.7" fill="#f5deb3" fill-opacity="0.7" stroke="#808080" stroke-opacity="0.5" stroke-linejoin="round" stroke-width="3.2"/>
<polygon points="730.4,368.1 737.0,374.7 743.6,368.1 748.4,372.9 741.8,379.5 748.4,386.1 743.6,390.9 737.0,384.3 730.4,390.9 725.6,386.1 732.2,379.5 725.6,372.9" fill="#f5deb3" fill-opacity="0.7" stroke="#808080" stroke-opacity="0.5" stroke-linejoin="round" stroke-width="3.2"/>
<polygon points="717.1,364.4 704.1,390.4 730.1,390.4" fill="#2a4596" fill-opacity="0.58" stroke="#808080" stroke-opacity="0.5" stroke-linejoin="round" stroke-width="3.2"/>
<polygon points="738.3,354.0 725.3,380.0 751.3,380.0" fill="#2a4596" fill-opacity="0.58" stroke="#808080" stroke-opacity="0.5" stroke-linejoin="round" stroke-width="3.2"/>
<polygon points="738.3,363.4 725.3,389.4 751.3,389.4" fill="#2a4596" fill-opacity="0.58" stroke="#808080" stroke-opacity="0.5" stroke-linejoin="round" stroke-width="3.2"/>
<polygon points="714.5,382.2 701.5,408.2 727.5,408.2" fill="#2a4596" fill-opacity="0.58" stroke="#808080" stroke-opacity="0.5" stroke-linejoin="round" stroke-width="3.2"/>
<polygon points="706.5,386.9 693.5,412.9 719.5,412.9" fill="#2a4596" fill-opacity="0.58" stroke="#808080" stroke-opacity="0.5" stroke-linejoin="round" stroke-width="3.2"/>
<polygon points="700.6,397.9 687.6,423.9 713.6,423.9" fill="#2a4596" fill-opacity="0.58" stroke="#808080" stroke-opacity="0.5" stroke-linejoin="round" stroke-width="3.2"/>
<polygon points="746.3,385.4 733.3,411.4 759.3,411.4" fill="#2a4596" fill-opacity="0.58" stroke="#808080" stroke-opacity="0.5" stroke-linejoin="round" stroke-width="3.2"/>
<polygon points="754.2,386.9 741.2,412.9 767.2,412.9" fill="#2a4596" fill-opacity="0.58" stroke="#808080" stroke-opacity="0.5" stroke-linejoin="round" stroke-width="3.2"/>
<polygon points="745.6,399.5 732.6,425.5 758.6,425.5" fill="#2a4596" fill-opacity="0.58" stroke="#808080" stroke-opacity="0.5" stroke-linejoin="round" stroke-width="3.2"/>
</g>
<g clip-path="url(#cb)">
<polygon points="1001.0,740.6 987.9,714.4 1014.2,714.4" fill="#add8e6" fill-opacity="0.5" stroke="#7a8088" stroke-opacity="0.6" stroke-linejoin="round" stroke-width="3.6"/>
<polygon points="1109.0,647.1 1095.8,620.9 1122.2,620.9" fill="#add8e6" fill-opacity="0.5" stroke="#7a8088" stroke-opacity="0.6" stroke-linejoin="round" stroke-width="3.6"/>
<polygon points="1088.0,667.1 1074.8,640.9 1101.2,640.9" fill="#add8e6" fill-opacity="0.5" stroke="#7a8088" stroke-opacity="0.6" stroke-linejoin="round" stroke-width="3.6"/>
<polygon points="1102.0,680.1 1088.8,653.9 1115.2,653.9" fill="#add8e6" fill-opacity="0.5" stroke="#7a8088" stroke-opacity="0.6" stroke-linejoin="round" stroke-width="3.6"/>
<polygon points="1115.0,698.1 1101.8,671.9 1128.2,671.9" fill="#add8e6" fill-opacity="0.5" stroke="#7a8088" stroke-opacity="0.6" stroke-linejoin="round" stroke-width="3.6"/>
<polygon points="1132.4,717.1 1119.2,690.9 1145.6,690.9" fill="#add8e6" fill-opacity="0.5" stroke="#7a8088" stroke-opacity="0.6" stroke-linejoin="round" stroke-width="3.6"/>
<polygon points="1113.0,773.1 1099.8,746.9 1126.2,746.9" fill="#add8e6" fill-opacity="0.5" stroke="#7a8088" stroke-opacity="0.6" stroke-linejoin="round" stroke-width="3.6"/>
<polygon points="1165.5,661.1 1152.3,634.9 1178.7,634.9" fill="#add8e6" fill-opacity="0.5" stroke="#7a8088" stroke-opacity="0.6" stroke-linejoin="round" stroke-width="3.6"/>
<polygon points="1166.0,609.1 1152.8,582.9 1179.2,582.9" fill="#add8e6" fill-opacity="0.5" stroke="#7a8088" stroke-opacity="0.6" stroke-linejoin="round" stroke-width="3.6"/>
<polygon points="1287.0,611.1 1273.8,584.9 1300.2,584.9" fill="#add8e6" fill-opacity="0.5" stroke="#7a8088" stroke-opacity="0.6" stroke-linejoin="round" stroke-width="3.6"/>
<polygon points="1305.8,623.1 1292.6,596.9 1319.0,596.9" fill="#add8e6" fill-opacity="0.5" stroke="#7a8088" stroke-opacity="0.6" stroke-linejoin="round" stroke-width="3.6"/>
<polygon points="868.1,777.6 854.9,751.3 881.2,751.3" fill="#add8e6" fill-opacity="0.5" stroke="#7a8088" stroke-opacity="0.6" stroke-linejoin="round" stroke-width="3.6"/>
<polygon points="954.7,776.1 941.6,749.8 967.9,749.8" fill="#add8e6" fill-opacity="0.5" stroke="#7a8088" stroke-opacity="0.6" stroke-linejoin="round" stroke-width="3.6"/>
<polygon points="988.4,837.8 975.2,811.5 1001.5,811.5" fill="#add8e6" fill-opacity="0.5" stroke="#7a8088" stroke-opacity="0.6" stroke-linejoin="round" stroke-width="3.6"/>
<polygon points="1000.8,857.2 987.7,830.9 1014.0,830.9" fill="#add8e6" fill-opacity="0.5" stroke="#7a8088" stroke-opacity="0.6" stroke-linejoin="round" stroke-width="3.6"/>
<polygon points="853.7,880.1 840.6,853.8 866.9,853.8" fill="#add8e6" fill-opacity="0.5" stroke="#7a8088" stroke-opacity="0.6" stroke-linejoin="round" stroke-width="3.6"/>
<polygon points="929.9,857.2 916.7,830.9 943.0,830.9" fill="#add8e6" fill-opacity="0.5" stroke="#7a8088" stroke-opacity="0.6" stroke-linejoin="round" stroke-width="3.6"/>
<polygon points="924.6,862.2 911.5,835.9 937.8,835.9" fill="#add8e6" fill-opacity="0.5" stroke="#7a8088" stroke-opacity="0.6" stroke-linejoin="round" stroke-width="3.6"/>
<polygon points="919.4,874.6 906.2,848.3 932.5,848.3" fill="#add8e6" fill-opacity="0.5" stroke="#7a8088" stroke-opacity="0.6" stroke-linejoin="round" stroke-width="3.6"/>
<polygon points="961.9,878.1 948.8,851.8 975.1,851.8" fill="#add8e6" fill-opacity="0.5" stroke="#7a8088" stroke-opacity="0.6" stroke-linejoin="round" stroke-width="3.6"/>
<polygon points="956.7,889.1 943.5,862.8 969.8,862.8" fill="#add8e6" fill-opacity="0.5" stroke="#7a8088" stroke-opacity="0.6" stroke-linejoin="round" stroke-width="3.6"/>
<polygon points="919.4,894.1 906.2,867.8 932.5,867.8" fill="#add8e6" fill-opacity="0.5" stroke="#7a8088" stroke-opacity="0.6" stroke-linejoin="round" stroke-width="3.6"/>
<polygon points="956.7,910.0 943.5,883.7 969.8,883.7" fill="#add8e6" fill-opacity="0.5" stroke="#7a8088" stroke-opacity="0.6" stroke-linejoin="round" stroke-width="3.6"/>
<polygon points="919.4,916.9 906.2,890.6 932.5,890.6" fill="#add8e6" fill-opacity="0.5" stroke="#7a8088" stroke-opacity="0.6" stroke-linejoin="round" stroke-width="3.6"/>
<polygon points="1006.3,920.4 993.2,894.1 1019.5,894.1" fill="#add8e6" fill-opacity="0.5" stroke="#7a8088" stroke-opacity="0.6" stroke-linejoin="round" stroke-width="3.6"/>
<polygon points="953.1,931.4 939.9,905.1 966.2,905.1" fill="#add8e6" fill-opacity="0.5" stroke="#7a8088" stroke-opacity="0.6" stroke-linejoin="round" stroke-width="3.6"/>
<polygon points="954.7,941.8 941.6,915.5 967.9,915.5" fill="#add8e6" fill-opacity="0.5" stroke="#7a8088" stroke-opacity="0.6" stroke-linejoin="round" stroke-width="3.6"/>
<polygon points="873.3,896.0 860.2,869.7 886.5,869.7" fill="#add8e6" fill-opacity="0.5" stroke="#7a8088" stroke-opacity="0.6" stroke-linejoin="round" stroke-width="3.6"/>
<polygon points="871.7,934.9 858.5,908.6 884.8,908.6" fill="#add8e6" fill-opacity="0.5" stroke="#7a8088" stroke-opacity="0.6" stroke-linejoin="round" stroke-width="3.6"/>
<polygon points="901.7,984.1 888.6,957.8 914.9,957.8" fill="#add8e6" fill-opacity="0.5" stroke="#7a8088" stroke-opacity="0.6" stroke-linejoin="round" stroke-width="3.6"/>
<polygon points="940.7,892.1 927.5,865.8 953.8,865.8" fill="#add8e6" fill-opacity="0.5" stroke="#7a8088" stroke-opacity="0.6" stroke-linejoin="round" stroke-width="3.6"/>
<polygon points="836.6,843.8 823.5,817.5 849.8,817.5" fill="#add8e6" fill-opacity="0.5" stroke="#7a8088" stroke-opacity="0.6" stroke-linejoin="round" stroke-width="3.6"/>
<polygon points="807.9,845.8 794.7,819.5 821.0,819.5" fill="#add8e6" fill-opacity="0.5" stroke="#7a8088" stroke-opacity="0.6" stroke-linejoin="round" stroke-width="3.6"/>
<polygon points="812.9,864.2 799.7,837.9 826.0,837.9" fill="#add8e6" fill-opacity="0.5" stroke="#7a8088" stroke-opacity="0.6" stroke-linejoin="round" stroke-width="3.6"/>
<polygon points="799.6,888.6 786.5,862.3 812.8,862.3" fill="#add8e6" fill-opacity="0.5" stroke="#7a8088" stroke-opacity="0.6" stroke-linejoin="round" stroke-width="3.6"/>
<polygon points="821.1,875.1 808.0,848.8 834.3,848.8" fill="#add8e6" fill-opacity="0.5" stroke="#7a8088" stroke-opacity="0.6" stroke-linejoin="round" stroke-width="3.6"/>
<polygon points="773.1,949.8 760.0,923.5 786.3,923.5" fill="#add8e6" fill-opacity="0.5" stroke="#7a8088" stroke-opacity="0.6" stroke-linejoin="round" stroke-width="3.6"/>
<polygon points="757.1,974.7 744.0,948.4 770.3,948.4" fill="#add8e6" fill-opacity="0.5" stroke="#7a8088" stroke-opacity="0.6" stroke-linejoin="round" stroke-width="3.6"/>
<circle cx="961.9" cy="35.5" r="11.90" fill="#d9692c" fill-opacity="0.5" stroke="#808080" stroke-opacity="0.5" stroke-linejoin="round" stroke-width="3.2"/>
<circle cx="1032.8" cy="178.3" r="11.90" fill="#d9692c" fill-opacity="0.5" stroke="#808080" stroke-opacity="0.5" stroke-linejoin="round" stroke-width="3.2"/>
<circle cx="1062.3" cy="180.3" r="11.90" fill="#d9692c" fill-opacity="0.5" stroke="#808080" stroke-opacity="0.5" stroke-linejoin="round" stroke-width="3.2"/>
<circle cx="1027.8" cy="216.8" r="11.90" fill="#d9692c" fill-opacity="0.5" stroke="#808080" stroke-opacity="0.5" stroke-linejoin="round" stroke-width="3.2"/>
<circle cx="997.3" cy="241.4" r="11.90" fill="#d9692c" fill-opacity="0.5" stroke="#808080" stroke-opacity="0.5" stroke-linejoin="round" stroke-width="3.2"/>
<circle cx="1090.3" cy="206.5" r="11.90" fill="#d9692c" fill-opacity="0.5" stroke="#808080" stroke-opacity="0.5" stroke-linejoin="round" stroke-width="3.2"/>
<circle cx="1101.0" cy="216.4" r="11.90" fill="#d9692c" fill-opacity="0.5" stroke="#808080" stroke-opacity="0.5" stroke-linejoin="round" stroke-width="3.2"/>
<circle cx="1075.7" cy="249.8" r="11.90" fill="#d9692c" fill-opacity="0.5" stroke="#808080" stroke-opacity="0.5" stroke-linejoin="round" stroke-width="3.2"/>
<circle cx="1069.7" cy="269.7" r="11.90" fill="#d9692c" fill-opacity="0.5" stroke="#808080" stroke-opacity="0.5" stroke-linejoin="round" stroke-width="3.2"/>
<circle cx="1095.5" cy="236.9" r="11.90" fill="#d9692c" fill-opacity="0.5" stroke="#808080" stroke-opacity="0.5" stroke-linejoin="round" stroke-width="3.2"/>
<circle cx="1108.2" cy="243.9" r="11.90" fill="#d9692c" fill-opacity="0.5" stroke="#808080" stroke-opacity="0.5" stroke-linejoin="round" stroke-width="3.2"/>
<circle cx="1108.2" cy="243.9" r="11.90" fill="#d9692c" fill-opacity="0.5" stroke="#808080" stroke-opacity="0.5" stroke-linejoin="round" stroke-width="3.2"/>
<circle cx="1132.1" cy="248.2" r="11.90" fill="#d9692c" fill-opacity="0.5" stroke="#808080" stroke-opacity="0.5" stroke-linejoin="round" stroke-width="3.2"/>
<circle cx="1132.1" cy="248.2" r="11.90" fill="#d9692c" fill-opacity="0.5" stroke="#808080" stroke-opacity="0.5" stroke-linejoin="round" stroke-width="3.2"/>
<circle cx="1128.6" cy="235.5" r="11.90" fill="#d9692c" fill-opacity="0.5" stroke="#808080" stroke-opacity="0.5" stroke-linejoin="round" stroke-width="3.2"/>
<circle cx="1092.7" cy="259.4" r="11.90" fill="#d9692c" fill-opacity="0.5" stroke="#808080" stroke-opacity="0.5" stroke-linejoin="round" stroke-width="3.2"/>
<circle cx="1092.7" cy="259.4" r="11.90" fill="#d9692c" fill-opacity="0.5" stroke="#808080" stroke-opacity="0.5" stroke-linejoin="round" stroke-width="3.2"/>
<circle cx="1092.0" cy="276.3" r="11.90" fill="#d9692c" fill-opacity="0.5" stroke="#808080" stroke-opacity="0.5" stroke-linejoin="round" stroke-width="3.2"/>
<circle cx="1112.4" cy="284.8" r="11.90" fill="#d9692c" fill-opacity="0.5" stroke="#808080" stroke-opacity="0.5" stroke-linejoin="round" stroke-width="3.2"/>
<circle cx="1112.4" cy="284.8" r="11.90" fill="#d9692c" fill-opacity="0.5" stroke="#808080" stroke-opacity="0.5" stroke-linejoin="round" stroke-width="3.2"/>
<circle cx="1111.0" cy="303.1" r="11.90" fill="#d9692c" fill-opacity="0.5" stroke="#808080" stroke-opacity="0.5" stroke-linejoin="round" stroke-width="3.2"/>
<circle cx="1111.0" cy="303.1" r="11.90" fill="#d9692c" fill-opacity="0.5" stroke="#808080" stroke-opacity="0.5" stroke-linejoin="round" stroke-width="3.2"/>
<circle cx="1163.0" cy="250.0" r="11.90" fill="#d9692c" fill-opacity="0.5" stroke="#808080" stroke-opacity="0.5" stroke-linejoin="round" stroke-width="3.2"/>
<circle cx="1162.0" cy="259.0" r="11.90" fill="#d9692c" fill-opacity="0.5" stroke="#808080" stroke-opacity="0.5" stroke-linejoin="round" stroke-width="3.2"/>
<circle cx="1162.0" cy="259.0" r="11.90" fill="#d9692c" fill-opacity="0.5" stroke="#808080" stroke-opacity="0.5" stroke-linejoin="round" stroke-width="3.2"/>
<circle cx="1143.4" cy="287.6" r="11.90" fill="#d9692c" fill-opacity="0.5" stroke="#808080" stroke-opacity="0.5" stroke-linejoin="round" stroke-width="3.2"/>
<circle cx="1143.4" cy="287.6" r="11.90" fill="#d9692c" fill-opacity="0.5" stroke="#808080" stroke-opacity="0.5" stroke-linejoin="round" stroke-width="3.2"/>
<circle cx="1143.4" cy="287.6" r="11.90" fill="#d9692c" fill-opacity="0.5" stroke="#808080" stroke-opacity="0.5" stroke-linejoin="round" stroke-width="3.2"/>
<circle cx="1175.8" cy="286.2" r="11.90" fill="#d9692c" fill-opacity="0.5" stroke="#808080" stroke-opacity="0.5" stroke-linejoin="round" stroke-width="3.2"/>
<circle cx="1175.8" cy="286.2" r="11.90" fill="#d9692c" fill-opacity="0.5" stroke="#808080" stroke-opacity="0.5" stroke-linejoin="round" stroke-width="3.2"/>
<circle cx="1175.8" cy="286.2" r="11.90" fill="#d9692c" fill-opacity="0.5" stroke="#808080" stroke-opacity="0.5" stroke-linejoin="round" stroke-width="3.2"/>
<circle cx="1177.2" cy="305.9" r="11.90" fill="#d9692c" fill-opacity="0.5" stroke="#808080" stroke-opacity="0.5" stroke-linejoin="round" stroke-width="3.2"/>
<circle cx="1177.2" cy="305.9" r="11.90" fill="#d9692c" fill-opacity="0.5" stroke="#808080" stroke-opacity="0.5" stroke-linejoin="round" stroke-width="3.2"/>
<circle cx="1177.2" cy="305.9" r="11.90" fill="#d9692c" fill-opacity="0.5" stroke="#808080" stroke-opacity="0.5" stroke-linejoin="round" stroke-width="3.2"/>
<circle cx="1095.5" cy="325.0" r="11.90" fill="#d9692c" fill-opacity="0.5" stroke="#808080" stroke-opacity="0.5" stroke-linejoin="round" stroke-width="3.2"/>
<circle cx="1095.5" cy="325.0" r="11.90" fill="#d9692c" fill-opacity="0.5" stroke="#808080" stroke-opacity="0.5" stroke-linejoin="round" stroke-width="3.2"/>
<circle cx="1088.5" cy="305.9" r="11.90" fill="#d9692c" fill-opacity="0.5" stroke="#808080" stroke-opacity="0.5" stroke-linejoin="round" stroke-width="3.2"/>
<circle cx="1136.3" cy="331.3" r="11.90" fill="#d9692c" fill-opacity="0.5" stroke="#808080" stroke-opacity="0.5" stroke-linejoin="round" stroke-width="3.2"/>
<circle cx="1136.3" cy="331.3" r="11.90" fill="#d9692c" fill-opacity="0.5" stroke="#808080" stroke-opacity="0.5" stroke-linejoin="round" stroke-width="3.2"/>
<circle cx="1181.2" cy="324.5" r="11.90" fill="#d9692c" fill-opacity="0.5" stroke="#808080" stroke-opacity="0.5" stroke-linejoin="round" stroke-width="3.2"/>
<circle cx="1181.2" cy="324.5" r="11.90" fill="#d9692c" fill-opacity="0.5" stroke="#808080" stroke-opacity="0.5" stroke-linejoin="round" stroke-width="3.2"/>
<circle cx="1181.2" cy="324.5" r="11.90" fill="#d9692c" fill-opacity="0.5" stroke="#808080" stroke-opacity="0.5" stroke-linejoin="round" stroke-width="3.2"/>
<circle cx="1154.6" cy="307.3" r="11.90" fill="#d9692c" fill-opacity="0.5" stroke="#808080" stroke-opacity="0.5" stroke-linejoin="round" stroke-width="3.2"/>
<circle cx="1154.6" cy="307.3" r="11.90" fill="#d9692c" fill-opacity="0.5" stroke="#808080" stroke-opacity="0.5" stroke-linejoin="round" stroke-width="3.2"/>
<circle cx="1194.0" cy="267.5" r="11.90" fill="#d9692c" fill-opacity="0.5" stroke="#808080" stroke-opacity="0.5" stroke-linejoin="round" stroke-width="3.2"/>
<circle cx="1194.0" cy="267.5" r="11.90" fill="#d9692c" fill-opacity="0.5" stroke="#808080" stroke-opacity="0.5" stroke-linejoin="round" stroke-width="3.2"/>
<circle cx="1194.0" cy="267.5" r="11.90" fill="#d9692c" fill-opacity="0.5" stroke="#808080" stroke-opacity="0.5" stroke-linejoin="round" stroke-width="3.2"/>
<circle cx="1122.3" cy="273.5" r="11.90" fill="#d9692c" fill-opacity="0.5" stroke="#808080" stroke-opacity="0.5" stroke-linejoin="round" stroke-width="3.2"/>
<circle cx="1133.5" cy="270.7" r="11.90" fill="#d9692c" fill-opacity="0.5" stroke="#808080" stroke-opacity="0.5" stroke-linejoin="round" stroke-width="3.2"/>
<circle cx="1150.0" cy="272.0" r="11.90" fill="#d9692c" fill-opacity="0.5" stroke="#808080" stroke-opacity="0.5" stroke-linejoin="round" stroke-width="3.2"/>
<circle cx="1150.0" cy="272.0" r="11.90" fill="#d9692c" fill-opacity="0.5" stroke="#808080" stroke-opacity="0.5" stroke-linejoin="round" stroke-width="3.2"/>
<circle cx="1160.0" cy="278.0" r="11.90" fill="#d9692c" fill-opacity="0.5" stroke="#808080" stroke-opacity="0.5" stroke-linejoin="round" stroke-width="3.2"/>
<circle cx="1160.0" cy="278.0" r="11.90" fill="#d9692c" fill-opacity="0.5" stroke="#808080" stroke-opacity="0.5" stroke-linejoin="round" stroke-width="3.2"/>
<circle cx="1121.0" cy="256.3" r="11.90" fill="#d9692c" fill-opacity="0.5" stroke="#808080" stroke-opacity="0.5" stroke-linejoin="round" stroke-width="3.2"/>
<circle cx="1128.0" cy="312.0" r="11.90" fill="#d9692c" fill-opacity="0.5" stroke="#808080" stroke-opacity="0.5" stroke-linejoin="round" stroke-width="3.2"/>
<circle cx="1130.0" cy="300.0" r="11.90" fill="#d9692c" fill-opacity="0.5" stroke="#808080" stroke-opacity="0.5" stroke-linejoin="round" stroke-width="3.2"/>
<circle cx="1212.1" cy="273.8" r="11.90" fill="#d9692c" fill-opacity="0.5" stroke="#808080" stroke-opacity="0.5" stroke-linejoin="round" stroke-width="3.2"/>
<circle cx="1230.4" cy="296.3" r="11.90" fill="#d9692c" fill-opacity="0.5" stroke="#808080" stroke-opacity="0.5" stroke-linejoin="round" stroke-width="3.2"/>
<circle cx="1206.5" cy="304.8" r="11.90" fill="#d9692c" fill-opacity="0.5" stroke="#808080" stroke-opacity="0.5" stroke-linejoin="round" stroke-width="3.2"/>
<circle cx="1206.5" cy="304.8" r="11.90" fill="#d9692c" fill-opacity="0.5" stroke="#808080" stroke-opacity="0.5" stroke-linejoin="round" stroke-width="3.2"/>
<circle cx="1222.0" cy="321.7" r="11.90" fill="#d9692c" fill-opacity="0.5" stroke="#808080" stroke-opacity="0.5" stroke-linejoin="round" stroke-width="3.2"/>
<circle cx="1222.0" cy="321.7" r="11.90" fill="#d9692c" fill-opacity="0.5" stroke="#808080" stroke-opacity="0.5" stroke-linejoin="round" stroke-width="3.2"/>
<circle cx="1209.3" cy="328.7" r="11.90" fill="#d9692c" fill-opacity="0.5" stroke="#808080" stroke-opacity="0.5" stroke-linejoin="round" stroke-width="3.2"/>
<circle cx="1209.3" cy="328.7" r="11.90" fill="#d9692c" fill-opacity="0.5" stroke="#808080" stroke-opacity="0.5" stroke-linejoin="round" stroke-width="3.2"/>
<circle cx="1184.5" cy="350.5" r="11.90" fill="#d9692c" fill-opacity="0.5" stroke="#808080" stroke-opacity="0.5" stroke-linejoin="round" stroke-width="3.2"/>
<circle cx="1184.5" cy="350.5" r="11.90" fill="#d9692c" fill-opacity="0.5" stroke="#808080" stroke-opacity="0.5" stroke-linejoin="round" stroke-width="3.2"/>
<circle cx="1164.2" cy="338.6" r="11.90" fill="#d9692c" fill-opacity="0.5" stroke="#808080" stroke-opacity="0.5" stroke-linejoin="round" stroke-width="3.2"/>
<circle cx="1238.9" cy="348.5" r="11.90" fill="#d9692c" fill-opacity="0.5" stroke="#808080" stroke-opacity="0.5" stroke-linejoin="round" stroke-width="3.2"/>
<circle cx="1245.9" cy="354.1" r="11.90" fill="#d9692c" fill-opacity="0.5" stroke="#808080" stroke-opacity="0.5" stroke-linejoin="round" stroke-width="3.2"/>
<circle cx="1245.9" cy="354.1" r="11.90" fill="#d9692c" fill-opacity="0.5" stroke="#808080" stroke-opacity="0.5" stroke-linejoin="round" stroke-width="3.2"/>
<circle cx="1274.0" cy="357.0" r="11.90" fill="#d9692c" fill-opacity="0.5" stroke="#808080" stroke-opacity="0.5" stroke-linejoin="round" stroke-width="3.2"/>
<circle cx="1274.0" cy="357.0" r="11.90" fill="#d9692c" fill-opacity="0.5" stroke="#808080" stroke-opacity="0.5" stroke-linejoin="round" stroke-width="3.2"/>
<circle cx="1268.3" cy="366.9" r="11.90" fill="#d9692c" fill-opacity="0.5" stroke="#808080" stroke-opacity="0.5" stroke-linejoin="round" stroke-width="3.2"/>
<circle cx="1198.0" cy="282.3" r="11.90" fill="#d9692c" fill-opacity="0.5" stroke="#808080" stroke-opacity="0.5" stroke-linejoin="round" stroke-width="3.2"/>
<circle cx="1198.0" cy="282.3" r="11.90" fill="#d9692c" fill-opacity="0.5" stroke="#808080" stroke-opacity="0.5" stroke-linejoin="round" stroke-width="3.2"/>
<circle cx="1068.2" cy="314.1" r="11.90" fill="#d9692c" fill-opacity="0.5" stroke="#808080" stroke-opacity="0.5" stroke-linejoin="round" stroke-width="3.2"/>
<circle cx="1065.4" cy="326.8" r="11.90" fill="#d9692c" fill-opacity="0.5" stroke="#808080" stroke-opacity="0.5" stroke-linejoin="round" stroke-width="3.2"/>
<circle cx="1065.4" cy="326.8" r="11.90" fill="#d9692c" fill-opacity="0.5" stroke="#808080" stroke-opacity="0.5" stroke-linejoin="round" stroke-width="3.2"/>
<circle cx="1085.1" cy="309.9" r="11.90" fill="#d9692c" fill-opacity="0.5" stroke="#808080" stroke-opacity="0.5" stroke-linejoin="round" stroke-width="3.2"/>
<circle cx="1106.2" cy="319.7" r="11.90" fill="#d9692c" fill-opacity="0.5" stroke="#808080" stroke-opacity="0.5" stroke-linejoin="round" stroke-width="3.2"/>
<circle cx="1141.4" cy="345.1" r="11.90" fill="#d9692c" fill-opacity="0.5" stroke="#808080" stroke-opacity="0.5" stroke-linejoin="round" stroke-width="3.2"/>
<circle cx="1152.7" cy="356.3" r="11.90" fill="#d9692c" fill-opacity="0.5" stroke="#808080" stroke-opacity="0.5" stroke-linejoin="round" stroke-width="3.2"/>
<circle cx="1085.1" cy="366.2" r="11.90" fill="#d9692c" fill-opacity="0.5" stroke="#808080" stroke-opacity="0.5" stroke-linejoin="round" stroke-width="3.2"/>
<circle cx="1087.9" cy="384.5" r="11.90" fill="#d9692c" fill-opacity="0.5" stroke="#808080" stroke-opacity="0.5" stroke-linejoin="round" stroke-width="3.2"/>
<circle cx="1055.5" cy="401.4" r="11.90" fill="#d9692c" fill-opacity="0.5" stroke="#808080" stroke-opacity="0.5" stroke-linejoin="round" stroke-width="3.2"/>
<circle cx="1121.0" cy="398.6" r="11.90" fill="#d9692c" fill-opacity="0.5" stroke="#808080" stroke-opacity="0.5" stroke-linejoin="round" stroke-width="3.2"/>
<circle cx="1140.7" cy="383.1" r="11.90" fill="#d9692c" fill-opacity="0.5" stroke="#808080" stroke-opacity="0.5" stroke-linejoin="round" stroke-width="3.2"/>
<circle cx="1157.0" cy="375.0" r="11.90" fill="#d9692c" fill-opacity="0.5" stroke="#808080" stroke-opacity="0.5" stroke-linejoin="round" stroke-width="3.2"/>
<circle cx="1157.0" cy="375.0" r="11.90" fill="#d9692c" fill-opacity="0.5" stroke="#808080" stroke-opacity="0.5" stroke-linejoin="round" stroke-width="3.2"/>
<circle cx="1154.1" cy="411.3" r="11.90" fill="#d9692c" fill-opacity="0.5" stroke="#808080" stroke-opacity="0.5" stroke-linejoin="round" stroke-width="3.2"/>
<circle cx="1147.0" cy="324.2" r="11.90" fill="#d9692c" fill-opacity="0.5" stroke="#808080" stroke-opacity="0.5" stroke-linejoin="round" stroke-width="3.2"/>
<circle cx="1147.0" cy="324.2" r="11.90" fill="#d9692c" fill-opacity="0.5" stroke="#808080" stroke-opacity="0.5" stroke-linejoin="round" stroke-width="3.2"/>
<circle cx="1159.7" cy="339.7" r="11.90" fill="#d9692c" fill-opacity="0.5" stroke="#808080" stroke-opacity="0.5" stroke-linejoin="round" stroke-width="3.2"/>
<circle cx="1159.7" cy="339.7" r="11.90" fill="#d9692c" fill-opacity="0.5" stroke="#808080" stroke-opacity="0.5" stroke-linejoin="round" stroke-width="3.2"/>
<circle cx="1158.3" cy="356.6" r="11.90" fill="#d9692c" fill-opacity="0.5" stroke="#808080" stroke-opacity="0.5" stroke-linejoin="round" stroke-width="3.2"/>
<circle cx="1163.9" cy="365.1" r="11.90" fill="#d9692c" fill-opacity="0.5" stroke="#808080" stroke-opacity="0.5" stroke-linejoin="round" stroke-width="3.2"/>
<circle cx="1163.9" cy="365.1" r="11.90" fill="#d9692c" fill-opacity="0.5" stroke="#808080" stroke-opacity="0.5" stroke-linejoin="round" stroke-width="3.2"/>
<circle cx="1224.5" cy="367.9" r="11.90" fill="#d9692c" fill-opacity="0.5" stroke="#808080" stroke-opacity="0.5" stroke-linejoin="round" stroke-width="3.2"/>
<circle cx="1224.5" cy="367.9" r="11.90" fill="#d9692c" fill-opacity="0.5" stroke="#808080" stroke-opacity="0.5" stroke-linejoin="round" stroke-width="3.2"/>
<circle cx="1209.0" cy="384.8" r="11.90" fill="#d9692c" fill-opacity="0.5" stroke="#808080" stroke-opacity="0.5" stroke-linejoin="round" stroke-width="3.2"/>
<circle cx="1209.0" cy="384.8" r="11.90" fill="#d9692c" fill-opacity="0.5" stroke="#808080" stroke-opacity="0.5" stroke-linejoin="round" stroke-width="3.2"/>
<circle cx="1218.9" cy="390.4" r="11.90" fill="#d9692c" fill-opacity="0.5" stroke="#808080" stroke-opacity="0.5" stroke-linejoin="round" stroke-width="3.2"/>
<circle cx="1244.2" cy="383.4" r="11.90" fill="#d9692c" fill-opacity="0.5" stroke="#808080" stroke-opacity="0.5" stroke-linejoin="round" stroke-width="3.2"/>
<circle cx="1244.2" cy="383.4" r="11.90" fill="#d9692c" fill-opacity="0.5" stroke="#808080" stroke-opacity="0.5" stroke-linejoin="round" stroke-width="3.2"/>
<circle cx="1244.2" cy="383.4" r="11.90" fill="#d9692c" fill-opacity="0.5" stroke="#808080" stroke-opacity="0.5" stroke-linejoin="round" stroke-width="3.2"/>
<circle cx="1241.4" cy="398.9" r="11.90" fill="#d9692c" fill-opacity="0.5" stroke="#808080" stroke-opacity="0.5" stroke-linejoin="round" stroke-width="3.2"/>
<circle cx="1182.3" cy="400.3" r="11.90" fill="#d9692c" fill-opacity="0.5" stroke="#808080" stroke-opacity="0.5" stroke-linejoin="round" stroke-width="3.2"/>
<circle cx="1155.5" cy="429.9" r="11.90" fill="#d9692c" fill-opacity="0.5" stroke="#808080" stroke-opacity="0.5" stroke-linejoin="round" stroke-width="3.2"/>
<circle cx="1234.4" cy="431.3" r="11.90" fill="#d9692c" fill-opacity="0.5" stroke="#808080" stroke-opacity="0.5" stroke-linejoin="round" stroke-width="3.2"/>
<circle cx="1049.4" cy="429.5" r="11.90" fill="#d9692c" fill-opacity="0.5" stroke="#808080" stroke-opacity="0.5" stroke-linejoin="round" stroke-width="3.2"/>
<circle cx="1045.0" cy="443.5" r="11.90" fill="#d9692c" fill-opacity="0.5" stroke="#808080" stroke-opacity="0.5" stroke-linejoin="round" stroke-width="3.2"/>
<circle cx="997.5" cy="443.7" r="11.90" fill="#d9692c" fill-opacity="0.5" stroke="#808080" stroke-opacity="0.5" stroke-linejoin="round" stroke-width="3.2"/>
<circle cx="1084.6" cy="499.0" r="11.90" fill="#d9692c" fill-opacity="0.5" stroke="#808080" stroke-opacity="0.5" stroke-linejoin="round" stroke-width="3.2"/>
<circle cx="1207.0" cy="501.0" r="11.90" fill="#d9692c" fill-opacity="0.5" stroke="#808080" stroke-opacity="0.5" stroke-linejoin="round" stroke-width="3.2"/>
<circle cx="1298.5" cy="477.6" r="11.90" fill="#d9692c" fill-opacity="0.5" stroke="#808080" stroke-opacity="0.5" stroke-linejoin="round" stroke-width="3.2"/>
<circle cx="1294.5" cy="485.2" r="11.90" fill="#d9692c" fill-opacity="0.5" stroke="#808080" stroke-opacity="0.5" stroke-linejoin="round" stroke-width="3.2"/>
<circle cx="1270.3" cy="533.9" r="11.90" fill="#d9692c" fill-opacity="0.5" stroke="#808080" stroke-opacity="0.5" stroke-linejoin="round" stroke-width="3.2"/>
<circle cx="1311.5" cy="353.8" r="11.90" fill="#d9692c" fill-opacity="0.5" stroke="#808080" stroke-opacity="0.5" stroke-linejoin="round" stroke-width="3.2"/>
<circle cx="1275.8" cy="402.6" r="11.90" fill="#d9692c" fill-opacity="0.5" stroke="#808080" stroke-opacity="0.5" stroke-linejoin="round" stroke-width="3.2"/>
<circle cx="1161.0" cy="270.0" r="11.90" fill="#d9692c" fill-opacity="0.5" stroke="#808080" stroke-opacity="0.5" stroke-linejoin="round" stroke-width="3.2"/>
<circle cx="1191.5" cy="277.5" r="11.90" fill="#d9692c" fill-opacity="0.5" stroke="#808080" stroke-opacity="0.5" stroke-linejoin="round" stroke-width="3.2"/>
<circle cx="1158.6" cy="324.4" r="11.90" fill="#d9692c" fill-opacity="0.5" stroke="#808080" stroke-opacity="0.5" stroke-linejoin="round" stroke-width="3.2"/>
<circle cx="1191.5" cy="298.6" r="11.90" fill="#d9692c" fill-opacity="0.5" stroke="#808080" stroke-opacity="0.5" stroke-linejoin="round" stroke-width="3.2"/>
<circle cx="1150.0" cy="300.0" r="11.90" fill="#d9692c" fill-opacity="0.5" stroke="#808080" stroke-opacity="0.5" stroke-linejoin="round" stroke-width="3.2"/>
<circle cx="1123.4" cy="310.3" r="11.90" fill="#d9692c" fill-opacity="0.5" stroke="#808080" stroke-opacity="0.5" stroke-linejoin="round" stroke-width="3.2"/>
<circle cx="1137.5" cy="312.7" r="11.90" fill="#d9692c" fill-opacity="0.5" stroke="#808080" stroke-opacity="0.5" stroke-linejoin="round" stroke-width="3.2"/>
<circle cx="1118.7" cy="293.9" r="11.90" fill="#d9692c" fill-opacity="0.5" stroke="#808080" stroke-opacity="0.5" stroke-linejoin="round" stroke-width="3.2"/>
<circle cx="1200.8" cy="322.0" r="11.90" fill="#d9692c" fill-opacity="0.5" stroke="#808080" stroke-opacity="0.5" stroke-linejoin="round" stroke-width="3.2"/>
<circle cx="1191.5" cy="331.5" r="11.90" fill="#d9692c" fill-opacity="0.5" stroke="#808080" stroke-opacity="0.5" stroke-linejoin="round" stroke-width="3.2"/>
<circle cx="1163.3" cy="340.8" r="11.90" fill="#d9692c" fill-opacity="0.5" stroke="#808080" stroke-opacity="0.5" stroke-linejoin="round" stroke-width="3.2"/>
<circle cx="1146.9" cy="345.5" r="11.90" fill="#d9692c" fill-opacity="0.5" stroke="#808080" stroke-opacity="0.5" stroke-linejoin="round" stroke-width="3.2"/>
<circle cx="1130.0" cy="285.0" r="11.90" fill="#d9692c" fill-opacity="0.5" stroke="#808080" stroke-opacity="0.5" stroke-linejoin="round" stroke-width="3.2"/>
<circle cx="1168.0" cy="295.0" r="11.90" fill="#d9692c" fill-opacity="0.5" stroke="#808080" stroke-opacity="0.5" stroke-linejoin="round" stroke-width="3.2"/>
<circle cx="1145.0" cy="258.0" r="11.90" fill="#d9692c" fill-opacity="0.5" stroke="#808080" stroke-opacity="0.5" stroke-linejoin="round" stroke-width="3.2"/>
<circle cx="923.3" cy="361.4" r="11.90" fill="#d9692c" fill-opacity="0.5" stroke="#808080" stroke-opacity="0.5" stroke-linejoin="round" stroke-width="3.2"/>
<circle cx="930.1" cy="427.4" r="11.90" fill="#d9692c" fill-opacity="0.5" stroke="#808080" stroke-opacity="0.5" stroke-linejoin="round" stroke-width="3.2"/>
<circle cx="928.7" cy="445.2" r="11.90" fill="#d9692c" fill-opacity="0.5" stroke="#808080" stroke-opacity="0.5" stroke-linejoin="round" stroke-width="3.2"/>
<circle cx="894.2" cy="442.6" r="11.90" fill="#d9692c" fill-opacity="0.5" stroke="#808080" stroke-opacity="0.5" stroke-linejoin="round" stroke-width="3.2"/>
<polygon points="1277.4,447.7 1293.2,463.5 1277.4,479.3 1261.6,463.5" fill="#f4a070" fill-opacity="0.55" stroke="#808080" stroke-opacity="0.5" stroke-linejoin="round" stroke-width="3.6"/>
<polygon points="1330.0,452.0 1345.8,467.8 1330.0,483.6 1314.2,467.8" fill="#f4a070" fill-opacity="0.55" stroke="#808080" stroke-opacity="0.5" stroke-linejoin="round" stroke-width="3.6"/>
<polygon points="1370.7,450.0 1386.5,465.8 1370.7,481.6 1354.9,465.8" fill="#f4a070" fill-opacity="0.55" stroke="#808080" stroke-opacity="0.5" stroke-linejoin="round" stroke-width="3.6"/>
<polygon points="1319.7,461.6 1335.5,477.4 1319.7,493.2 1303.9,477.4" fill="#f4a070" fill-opacity="0.55" stroke="#808080" stroke-opacity="0.5" stroke-linejoin="round" stroke-width="3.6"/>
<polygon points="1341.6,483.6 1357.4,499.4 1341.6,515.2 1325.8,499.4" fill="#f4a070" fill-opacity="0.55" stroke="#808080" stroke-opacity="0.5" stroke-linejoin="round" stroke-width="3.6"/>
<polygon points="1364.2,488.1 1380.0,503.9 1364.2,519.7 1348.4,503.9" fill="#f4a070" fill-opacity="0.55" stroke="#808080" stroke-opacity="0.5" stroke-linejoin="round" stroke-width="3.6"/>
<polygon points="1326.2,495.9 1342.0,511.7 1326.2,527.5 1310.4,511.7" fill="#f4a070" fill-opacity="0.55" stroke="#808080" stroke-opacity="0.5" stroke-linejoin="round" stroke-width="3.6"/>
<polygon points="1326.2,495.9 1342.0,511.7 1326.2,527.5 1310.4,511.7" fill="#f4a070" fill-opacity="0.55" stroke="#808080" stroke-opacity="0.5" stroke-linejoin="round" stroke-width="3.6"/>
<polygon points="1342.9,514.6 1358.7,530.4 1342.9,546.2 1327.1,530.4" fill="#f4a070" fill-opacity="0.55" stroke="#808080" stroke-opacity="0.5" stroke-linejoin="round" stroke-width="3.6"/>
<polygon points="1221.0,504.0 1236.8,519.8 1221.0,535.6 1205.2,519.8" fill="#f4a070" fill-opacity="0.55" stroke="#808080" stroke-opacity="0.5" stroke-linejoin="round" stroke-width="3.6"/>
<polygon points="1251.5,508.7 1267.3,524.5 1251.5,540.3 1235.7,524.5" fill="#f4a070" fill-opacity="0.55" stroke="#808080" stroke-opacity="0.5" stroke-linejoin="round" stroke-width="3.6"/>
<polygon points="1241.0,534.5 1256.8,550.3 1241.0,566.1 1225.2,550.3" fill="#f4a070" fill-opacity="0.55" stroke="#808080" stroke-opacity="0.5" stroke-linejoin="round" stroke-width="3.6"/>
<polygon points="1273.8,532.2 1289.6,548.0 1273.8,563.8 1258.0,548.0" fill="#f4a070" fill-opacity="0.55" stroke="#808080" stroke-opacity="0.5" stroke-linejoin="round" stroke-width="3.6"/>
<polygon points="1192.9,552.1 1208.7,567.9 1192.9,583.7 1177.1,567.9" fill="#f4a070" fill-opacity="0.55" stroke="#808080" stroke-opacity="0.5" stroke-linejoin="round" stroke-width="3.6"/>
<polygon points="1212.8,546.3 1228.6,562.1 1212.8,577.9 1197.0,562.1" fill="#f4a070" fill-opacity="0.55" stroke="#808080" stroke-opacity="0.5" stroke-linejoin="round" stroke-width="3.6"/>
<polygon points="1316.1,561.5 1331.9,577.3 1316.1,593.1 1300.3,577.3" fill="#f4a070" fill-opacity="0.55" stroke="#808080" stroke-opacity="0.5" stroke-linejoin="round" stroke-width="3.6"/>
<polygon points="1221.0,595.6 1236.8,611.4 1221.0,627.2 1205.2,611.4" fill="#f4a070" fill-opacity="0.55" stroke="#808080" stroke-opacity="0.5" stroke-linejoin="round" stroke-width="3.6"/>
<polygon points="1414.0,506.4 1429.8,522.2 1414.0,538.0 1398.2,522.2" fill="#f4a070" fill-opacity="0.55" stroke="#808080" stroke-opacity="0.5" stroke-linejoin="round" stroke-width="3.6"/>
<polygon points="1435.1,546.3 1450.9,562.1 1435.1,577.9 1419.3,562.1" fill="#f4a070" fill-opacity="0.55" stroke="#808080" stroke-opacity="0.5" stroke-linejoin="round" stroke-width="3.6"/>
<polygon points="1159.9,580.6 1175.7,596.4 1159.9,612.2 1144.1,596.4" fill="#f4a070" fill-opacity="0.55" stroke="#808080" stroke-opacity="0.5" stroke-linejoin="round" stroke-width="3.6"/>
<polygon points="1292.0,492.4 1304.9,501.8 1300.0,517.0 1284.0,517.0 1279.1,501.8" fill="#5a84d6" fill-opacity="0.5" stroke="#808080" stroke-opacity="0.5" stroke-linejoin="round" stroke-width="3.2"/>
<polygon points="1308.0,516.8 1320.9,526.2 1316.0,541.4 1300.0,541.4 1295.1,526.2" fill="#5a84d6" fill-opacity="0.5" stroke="#808080" stroke-opacity="0.5" stroke-linejoin="round" stroke-width="3.2"/>
<polygon points="1304.4,536.4 1317.3,545.8 1312.4,561.0 1296.4,561.0 1291.5,545.8" fill="#5a84d6" fill-opacity="0.5" stroke="#808080" stroke-opacity="0.5" stroke-linejoin="round" stroke-width="3.2"/>
<polygon points="1280.9,573.1 1293.8,582.5 1288.9,597.7 1272.9,597.7 1268.0,582.5" fill="#5a84d6" fill-opacity="0.5" stroke="#808080" stroke-opacity="0.5" stroke-linejoin="round" stroke-width="3.2"/>
<polygon points="1329.5,592.9 1342.4,602.3 1337.5,617.5 1321.5,617.5 1316.6,602.3" fill="#5a84d6" fill-opacity="0.5" stroke="#808080" stroke-opacity="0.5" stroke-linejoin="round" stroke-width="3.2"/>
<polygon points="1374.0,532.4 1386.9,541.8 1382.0,557.0 1366.0,557.0 1361.1,541.8" fill="#5a84d6" fill-opacity="0.5" stroke="#808080" stroke-opacity="0.5" stroke-linejoin="round" stroke-width="3.2"/>
<polygon points="1483.2,548.5 1496.1,557.9 1491.2,573.1 1475.2,573.1 1470.3,557.9" fill="#5a84d6" fill-opacity="0.5" stroke="#808080" stroke-opacity="0.5" stroke-linejoin="round" stroke-width="3.2"/>
<polygon points="1390.6,594.4 1403.5,603.8 1398.6,619.0 1382.6,619.0 1377.7,603.8" fill="#5a84d6" fill-opacity="0.5" stroke="#808080" stroke-opacity="0.5" stroke-linejoin="round" stroke-width="3.2"/>
<polygon points="1453.8,583.7 1466.7,593.1 1461.8,608.3 1445.8,608.3 1440.9,593.1" fill="#5a84d6" fill-opacity="0.5" stroke="#808080" stroke-opacity="0.5" stroke-linejoin="round" stroke-width="3.2"/>
<polygon points="1455.0,588.4 1467.9,597.8 1463.0,613.0 1447.0,613.0 1442.1,597.8" fill="#5a84d6" fill-opacity="0.5" stroke="#808080" stroke-opacity="0.5" stroke-linejoin="round" stroke-width="3.2"/>
<polygon points="1416.3,620.4 1429.2,629.8 1424.3,645.0 1408.3,645.0 1403.4,629.8" fill="#5a84d6" fill-opacity="0.5" stroke="#808080" stroke-opacity="0.5" stroke-linejoin="round" stroke-width="3.2"/>
<polygon points="1534.5,579.4 1547.4,588.8 1542.5,604.0 1526.5,604.0 1521.6,588.8" fill="#5a84d6" fill-opacity="0.5" stroke="#808080" stroke-opacity="0.5" stroke-linejoin="round" stroke-width="3.2"/>
<polygon points="1341.2,556.5 1347.8,563.1 1354.4,556.5 1359.2,561.3 1352.6,567.9 1359.2,574.5 1354.4,579.3 1347.8,572.7 1341.2,579.3 1336.4,574.5 1343.0,567.9 1336.4,561.3" fill="#f5deb3" fill-opacity="0.7" stroke="#808080" stroke-opacity="0.5" stroke-linejoin="round" stroke-width="3.2"/>
<polygon points="1406.2,517.8 1412.8,524.4 1419.4,517.8 1424.2,522.6 1417.6,529.2 1424.2,535.8 1419.4,540.6 1412.8,534.0 1406.2,540.6 1401.4,535.8 1408.0,529.2 1401.4,522.6" fill="#f5deb3" fill-opacity="0.7" stroke="#808080" stroke-opacity="0.5" stroke-linejoin="round" stroke-width="3.2"/>
<polygon points="1403.8,529.5 1410.4,536.1 1417.0,529.5 1421.8,534.3 1415.2,540.9 1421.8,547.5 1417.0,552.3 1410.4,545.7 1403.8,552.3 1399.0,547.5 1405.6,540.9 1399.0,534.3" fill="#f5deb3" fill-opacity="0.7" stroke="#808080" stroke-opacity="0.5" stroke-linejoin="round" stroke-width="3.2"/>
<polygon points="1420.3,531.9 1426.9,538.5 1433.5,531.9 1438.3,536.7 1431.7,543.3 1438.3,549.9 1433.5,554.7 1426.9,548.1 1420.3,554.7 1415.5,549.9 1422.1,543.3 1415.5,536.7" fill="#f5deb3" fill-opacity="0.7" stroke="#808080" stroke-opacity="0.5" stroke-linejoin="round" stroke-width="3.2"/>
<polygon points="1436.7,524.8 1443.3,531.4 1449.9,524.8 1454.7,529.6 1448.1,536.2 1454.7,542.8 1449.9,547.6 1443.3,541.0 1436.7,547.6 1431.9,542.8 1438.5,536.2 1431.9,529.6" fill="#f5deb3" fill-opacity="0.7" stroke="#808080" stroke-opacity="0.5" stroke-linejoin="round" stroke-width="3.2"/>
<polygon points="1470.7,523.7 1477.3,530.3 1483.9,523.7 1488.7,528.5 1482.1,535.1 1488.7,541.7 1483.9,546.5 1477.3,539.9 1470.7,546.5 1465.9,541.7 1472.5,535.1 1465.9,528.5" fill="#f5deb3" fill-opacity="0.7" stroke="#808080" stroke-opacity="0.5" stroke-linejoin="round" stroke-width="3.2"/>
<polygon points="1424.9,602.3 1431.5,608.9 1438.1,602.3 1442.9,607.1 1436.3,613.7 1442.9,620.3 1438.1,625.1 1431.5,618.5 1424.9,625.1 1420.1,620.3 1426.7,613.7 1420.1,607.1" fill="#f5deb3" fill-opacity="0.7" stroke="#808080" stroke-opacity="0.5" stroke-linejoin="round" stroke-width="3.2"/>
<polygon points="1540.1,562.1 1546.7,568.7 1553.3,562.1 1558.1,566.9 1551.5,573.5 1558.1,580.1 1553.3,584.9 1546.7,578.3 1540.1,584.9 1535.3,580.1 1541.9,573.5 1535.3,566.9" fill="#f5deb3" fill-opacity="0.7" stroke="#808080" stroke-opacity="0.5" stroke-linejoin="round" stroke-width="3.2"/>
<polygon points="1586.1,577.1 1592.7,583.7 1599.3,577.1 1604.1,581.9 1597.5,588.5 1604.1,595.1 1599.3,599.9 1592.7,593.3 1586.1,599.9 1581.3,595.1 1587.9,588.5 1581.3,581.9" fill="#f5deb3" fill-opacity="0.7" stroke="#808080" stroke-opacity="0.5" stroke-linejoin="round" stroke-width="3.2"/>
<polygon points="1589.8,591.2 1596.4,597.8 1603.0,591.2 1607.8,596.0 1601.2,602.6 1607.8,609.2 1603.0,614.0 1596.4,607.4 1589.8,614.0 1585.0,609.2 1591.6,602.6 1585.0,596.0" fill="#f5deb3" fill-opacity="0.7" stroke="#808080" stroke-opacity="0.5" stroke-linejoin="round" stroke-width="3.2"/>
<polygon points="1616.1,596.9 1622.7,603.5 1629.3,596.9 1634.1,601.7 1627.5,608.3 1634.1,614.9 1629.3,619.7 1622.7,613.1 1616.1,619.7 1611.3,614.9 1617.9,608.3 1611.3,601.7" fill="#f5deb3" fill-opacity="0.7" stroke="#808080" stroke-opacity="0.5" stroke-linejoin="round" stroke-width="3.2"/>
<polygon points="1607.7,621.3 1614.3,627.9 1620.9,621.3 1625.7,626.1 1619.1,632.7 1625.7,639.3 1620.9,644.1 1614.3,637.5 1607.7,644.1 1602.9,639.3 1609.5,632.7 1602.9,626.1" fill="#f5deb3" fill-opacity="0.7" stroke="#808080" stroke-opacity="0.5" stroke-linejoin="round" stroke-width="3.2"/>
<polygon points="1554.2,605.3 1560.8,611.9 1567.4,605.3 1572.2,610.1 1565.6,616.7 1572.2,623.3 1567.4,628.1 1560.8,621.5 1554.2,628.1 1549.4,623.3 1556.0,616.7 1549.4,610.1" fill="#f5deb3" fill-opacity="0.7" stroke="#808080" stroke-opacity="0.5" stroke-linejoin="round" stroke-width="3.2"/>
<polygon points="1556.0,591.2 1562.6,597.8 1569.2,591.2 1574.0,596.0 1567.4,602.6 1574.0,609.2 1569.2,614.0 1562.6,607.4 1556.0,614.0 1551.2,609.2 1557.8,602.6 1551.2,596.0" fill="#f5deb3" fill-opacity="0.7" stroke="#808080" stroke-opacity="0.5" stroke-linejoin="round" stroke-width="3.2"/>
<polygon points="1534.5,587.0 1521.5,613.0 1547.5,613.0" fill="#2a4596" fill-opacity="0.58" stroke="#808080" stroke-opacity="0.5" stroke-linejoin="round" stroke-width="3.2"/>
<polygon points="1564.5,574.6 1551.5,600.6 1577.5,600.6" fill="#2a4596" fill-opacity="0.58" stroke="#808080" stroke-opacity="0.5" stroke-linejoin="round" stroke-width="3.2"/>
<polygon points="1564.5,585.9 1551.5,611.9 1577.5,611.9" fill="#2a4596" fill-opacity="0.58" stroke="#808080" stroke-opacity="0.5" stroke-linejoin="round" stroke-width="3.2"/>
<polygon points="1530.7,608.4 1517.7,634.4 1543.7,634.4" fill="#2a4596" fill-opacity="0.58" stroke="#808080" stroke-opacity="0.5" stroke-linejoin="round" stroke-width="3.2"/>
<polygon points="1519.4,614.0 1506.4,640.0 1532.4,640.0" fill="#2a4596" fill-opacity="0.58" stroke="#808080" stroke-opacity="0.5" stroke-linejoin="round" stroke-width="3.2"/>
<polygon points="1511.0,627.2 1498.0,653.2 1524.0,653.2" fill="#2a4596" fill-opacity="0.58" stroke="#808080" stroke-opacity="0.5" stroke-linejoin="round" stroke-width="3.2"/>
<polygon points="1575.8,612.2 1562.8,638.2 1588.8,638.2" fill="#2a4596" fill-opacity="0.58" stroke="#808080" stroke-opacity="0.5" stroke-linejoin="round" stroke-width="3.2"/>
<polygon points="1587.0,614.0 1574.0,640.0 1600.0,640.0" fill="#2a4596" fill-opacity="0.58" stroke="#808080" stroke-opacity="0.5" stroke-linejoin="round" stroke-width="3.2"/>
<polygon points="1574.8,629.1 1561.8,655.1 1587.8,655.1" fill="#2a4596" fill-opacity="0.58" stroke="#808080" stroke-opacity="0.5" stroke-linejoin="round" stroke-width="3.2"/>
</g>
<polygon points="289.8,297.5 292.3,305.1 300.3,305.1 293.8,309.8 296.3,317.4 289.8,312.7 283.3,317.4 285.8,309.8 279.3,305.1 287.3,305.1" fill="none" stroke="#8c564b" stroke-width="2.4" stroke-linejoin="miter"/>
<polygon points="335.5,333.5 338.0,341.1 346.0,341.1 339.5,345.8 342.0,353.4 335.5,348.7 329.0,353.4 331.5,345.8 325.0,341.1 333.0,341.1" fill="none" stroke="#da70d6" stroke-width="2.4" stroke-linejoin="miter"/>
<polygon points="367.3,362.0 369.8,369.6 377.8,369.6 371.3,374.3 373.8,381.9 367.3,377.2 360.8,381.9 363.3,374.3 356.8,369.6 364.8,369.6" fill="none" stroke="#000080" stroke-width="2.4" stroke-linejoin="miter"/>
<polygon points="410.4,387.5 412.9,395.1 420.9,395.1 414.4,399.8 416.9,407.4 410.4,402.7 403.9,407.4 406.4,399.8 399.9,395.1 407.9,395.1" fill="none" stroke="#d62728" stroke-width="2.4" stroke-linejoin="miter"/>
<rect x="451.0" y="398.5" width="25.6" height="25.6" fill="none" stroke="#3aa935" stroke-width="2.8"/>
<rect x="631.8" y="414.2" width="25.6" height="25.6" fill="none" stroke="#b4c832" stroke-width="2.8"/>
<path d="M282.6,413.4 L302.1,432.9 M282.6,432.9 L302.1,413.4" stroke="#8c564b" stroke-width="2.0" stroke-opacity="1.0" fill="none"/>
<path d="M246.4,518.0 L265.9,537.5 M246.4,537.5 L265.9,518.0" stroke="#8c564b" stroke-width="2.0" stroke-opacity="1.0" fill="none"/>
<path d="M220.8,604.5 L240.2,624.0 M220.8,624.0 L240.2,604.5" stroke="#8c564b" stroke-width="2.0" stroke-opacity="1.0" fill="none"/>
<path d="M317.4,428.9 L336.9,448.4 M317.4,448.4 L336.9,428.9" stroke="#da70d6" stroke-width="2.0" stroke-opacity="1.0" fill="none"/>
<path d="M248.9,534.9 L268.4,554.4 M248.9,554.4 L268.4,534.9" stroke="#da70d6" stroke-width="2.0" stroke-opacity="1.0" fill="none"/>
<path d="M219.8,604.2 L239.2,623.8 M219.8,623.8 L239.2,604.2" stroke="#da70d6" stroke-width="2.0" stroke-opacity="1.0" fill="none"/>
<path d="M341.9,435.4 L361.4,454.9 M341.9,454.9 L361.4,435.4" stroke="#000080" stroke-width="2.0" stroke-opacity="1.0" fill="none"/>
<path d="M261.9,536.1 L281.4,555.6 M261.9,555.6 L281.4,536.1" stroke="#000080" stroke-width="2.0" stroke-opacity="1.0" fill="none"/>
<path d="M228.3,607.5 L247.8,627.0 M228.3,627.0 L247.8,607.5" stroke="#000080" stroke-width="2.0" stroke-opacity="1.0" fill="none"/>
<path d="M369.1,441.9 L388.6,461.4 M369.1,461.4 L388.6,441.9" stroke="#d62728" stroke-width="2.0" stroke-opacity="1.0" fill="none"/>
<path d="M276.1,537.5 L295.6,557.0 M276.1,557.0 L295.6,537.5" stroke="#d62728" stroke-width="2.0" stroke-opacity="1.0" fill="none"/>
<path d="M236.1,609.0 L255.6,628.5 M236.1,628.5 L255.6,609.0" stroke="#d62728" stroke-width="2.0" stroke-opacity="1.0" fill="none"/>
<path d="M400.1,445.8 L419.6,465.2 M400.1,465.2 L419.6,445.8" stroke="#3aa935" stroke-width="2.0" stroke-opacity="1.0" fill="none"/>
<path d="M292.9,536.1 L312.4,555.6 M292.9,555.6 L312.4,536.1" stroke="#3aa935" stroke-width="2.0" stroke-opacity="1.0" fill="none"/>
<path d="M245.2,610.6 L264.6,630.1 M245.2,630.1 L264.6,610.6" stroke="#3aa935" stroke-width="2.0" stroke-opacity="1.0" fill="none"/>
<path d="M496.4,447.8 L515.9,467.2 M496.4,467.2 L515.9,447.8" stroke="#b4c832" stroke-width="2.0" stroke-opacity="1.0" fill="none"/>
<path d="M341.9,529.6 L361.4,549.1 M341.9,549.1 L361.4,529.6" stroke="#b4c832" stroke-width="2.0" stroke-opacity="1.0" fill="none"/>
<path d="M264.2,612.1 L283.8,631.6 M264.2,631.6 L283.8,612.1" stroke="#b4c832" stroke-width="2.0" stroke-opacity="1.0" fill="none"/>
<g clip-path="url(#ca)" fill="none" stroke-width="5.9" stroke-linecap="butt">
<path d="M283.9,676.8 C283.0,676.1 280.4,674.5 278.5,672.5 C276.6,670.5 273.2,669.2 272.2,664.6 C271.1,660.0 271.9,651.9 272.2,644.8 C272.5,637.7 273.3,629.3 274.0,621.9 C274.7,614.5 274.9,606.1 276.3,600.5 C277.7,594.9 279.3,591.6 282.4,588.3 C285.4,585.0 290.0,583.5 294.6,580.7 C299.2,577.9 304.3,575.8 309.9,571.5 C315.5,567.2 321.4,560.2 328.4,554.9 C335.4,549.5 338.8,547.6 351.7,539.4 C364.6,531.2 391.3,514.3 405.9,505.9 C420.5,497.5 422.8,497.2 439.5,489.1 C456.2,481.0 486.6,465.1 506.1,457.5 C525.6,449.9 541.3,447.2 556.8,443.4 C572.3,439.6 584.4,437.6 599.0,434.9 C613.6,432.2 630.5,428.9 644.6,427.0 C658.7,425.1 667.6,424.7 683.5,423.7 C699.4,422.7 718.8,421.4 739.9,420.8 C761.0,420.2 795.0,420.2 810.0,420.0 C825.0,419.8 826.7,419.7 830.0,419.6" stroke="#b4c832" stroke-dasharray="20.5,10.1" stroke-dashoffset="14.55"/>
<path d="M277.8,679.9 C276.8,678.9 274.8,676.9 271.7,673.8 C268.6,670.7 262.5,665.3 259.5,661.5 C256.5,657.7 254.8,655.5 253.8,650.9 C252.9,646.3 253.7,639.2 253.8,634.1 C253.9,629.0 254.4,626.0 254.5,620.4 C254.6,614.8 254.2,605.7 254.5,600.5 C254.8,595.3 254.0,593.1 256.0,589.1 C258.0,585.1 261.8,581.0 266.5,576.2 C271.2,571.4 278.5,565.2 284.5,560.1 C290.5,555.0 296.1,551.5 302.6,545.9 C309.1,540.3 315.6,533.6 323.3,526.5 C331.1,519.4 338.8,511.5 349.1,503.3 C359.4,495.1 375.1,485.5 385.2,477.5 C395.3,469.5 400.8,463.2 409.8,455.5 C418.9,447.8 430.5,438.4 439.5,431.0 C448.5,423.6 453.7,418.6 463.8,411.3 C473.9,404.0 487.2,395.3 500.4,387.0 C513.5,378.7 526.3,370.4 542.7,361.7 C559.1,353.0 582.6,342.9 599.0,334.9 C615.4,326.9 627.7,320.4 641.3,313.8 C654.9,307.2 674.1,298.6 680.7,295.5" stroke="#3aa935" stroke-dasharray="20.5,10.1" stroke-dashoffset="9.9"/>
<path d="M274.8,682.1 C273.5,680.7 270.4,677.2 267.1,673.8 C263.8,670.4 257.9,665.3 254.9,661.5 C251.8,657.7 250.4,655.5 248.8,650.9 C247.2,646.3 246.0,639.5 245.5,634.1 C245.0,628.8 245.8,624.4 245.8,618.8 C245.9,613.2 245.3,606.0 245.8,600.5 C246.3,595.0 246.4,590.9 249.0,585.9 C251.6,580.9 255.2,576.8 261.3,570.4 C267.4,564.0 279.4,553.7 285.8,547.2 C292.2,540.8 293.8,537.7 300.0,531.7 C306.2,525.7 315.1,518.3 323.3,511.0 C331.5,503.7 341.8,495.1 349.1,487.8 C356.4,480.5 362.2,473.1 367.2,467.1 C372.1,461.1 374.2,458.4 378.8,451.6 C383.4,444.9 389.6,435.5 394.9,426.6 C400.2,417.7 406.1,409.0 410.4,398.2 C414.7,387.4 417.9,374.5 420.7,362.0 C423.5,349.5 425.2,338.4 427.2,323.3 C429.1,308.2 431.2,287.2 432.4,271.6 C433.6,256.0 433.6,243.0 434.2,229.5 C434.8,216.0 435.6,200.6 436.2,190.7 C436.8,180.8 437.3,173.4 437.5,170.0" stroke="#d62728" stroke-dasharray="20.5,10.1" stroke-dashoffset="7.55"/>
<path d="M273.2,682.1 C271.7,680.5 267.7,675.6 264.1,672.2 C260.6,668.8 255.2,664.8 251.9,661.5 C248.6,658.2 246.4,657.0 244.2,652.4 C242.0,647.8 239.5,640.0 238.5,634.1 C237.5,628.2 238.2,622.9 238.1,617.3 C238.0,611.7 237.6,605.7 238.0,600.5 C238.4,595.3 238.3,591.4 240.5,585.9 C242.7,580.4 245.8,574.5 251.0,567.8 C256.2,561.1 265.2,552.8 271.6,545.9 C278.1,539.0 283.2,533.2 289.7,526.5 C296.2,519.8 303.9,512.8 310.4,505.9 C316.8,499.0 322.8,492.5 328.4,485.2 C334.0,477.9 340.0,468.7 343.9,462.0 C347.8,455.3 349.2,450.9 351.7,445.2 C354.2,439.5 356.8,434.6 358.8,428.0 C360.8,421.4 362.5,415.2 363.9,405.9 C365.3,396.6 366.9,383.3 367.3,372.3 C367.7,361.3 367.3,352.5 366.5,340.0 C365.7,327.5 364.5,312.3 362.6,297.5 C360.7,282.7 356.9,263.2 354.9,251.0 C352.9,238.8 352.0,234.4 350.5,224.3 C349.0,214.2 347.5,202.8 345.9,190.7 C344.3,178.6 342.8,167.1 340.7,152.0 C338.6,136.9 335.6,117.6 333.0,100.4 C330.4,83.2 327.8,63.8 325.2,48.7 C322.6,33.6 318.8,16.4 317.5,10.0" stroke="#000080" stroke-dasharray="20.5,10.1" stroke-dashoffset="6.6"/>
<path d="M271.7,682.1 C269.4,680.2 262.3,674.4 258.0,670.7 C253.7,667.0 249.4,663.3 245.8,660.0 C242.2,656.7 239.0,654.2 236.6,650.9 C234.2,647.6 232.5,643.3 231.5,640.0 C230.5,636.7 230.9,636.3 230.5,631.0 C230.1,625.7 228.9,615.8 229.0,608.1 C229.1,600.4 229.2,591.7 231.0,585.0 C232.8,578.3 235.4,574.7 240.0,568.0 C244.6,561.3 252.3,552.4 258.7,544.6 C265.1,536.8 272.1,528.7 278.1,521.4 C284.1,514.1 289.3,508.4 294.9,500.7 C300.5,492.9 307.2,483.1 311.7,474.9 C316.2,466.7 319.4,457.6 322.0,451.6 C324.6,445.6 325.3,446.0 327.2,438.7 C329.1,431.4 332.2,418.3 333.6,407.7 C335.0,397.1 335.2,385.6 335.5,375.0 C335.8,364.4 335.9,353.1 335.5,343.9 C335.1,334.7 334.3,332.1 333.0,320.0 C331.7,307.9 329.8,286.7 327.8,271.6 C325.9,256.5 323.7,245.1 321.3,229.5 C318.9,213.9 316.2,195.0 313.6,177.8 C311.0,160.6 308.4,143.4 305.8,126.2 C303.2,109.0 300.5,93.9 298.1,74.5 C295.7,55.1 292.7,20.8 291.6,10.0" stroke="#da70d6" stroke-dasharray="20.5,10.1" stroke-dashoffset="4.35"/>
<path d="M270.2,682.9 C267.9,681.4 260.8,676.8 256.5,673.8 C252.2,670.8 248.5,667.7 244.2,664.6 C239.9,661.5 234.4,658.3 230.5,655.4 C226.6,652.5 222.8,649.6 220.5,647.0 C218.2,644.4 217.0,642.2 216.8,639.5 C216.6,636.8 218.0,634.2 219.5,631.0 C221.0,627.8 223.6,624.2 225.9,620.4 C228.2,616.6 231.1,613.2 233.6,608.1 C236.1,603.0 239.4,595.1 241.2,589.8 C243.0,584.5 243.0,581.9 244.2,576.1 C245.4,570.3 246.4,563.0 248.4,554.9 C250.4,546.8 252.0,536.4 256.1,527.8 C260.2,519.2 268.6,511.7 272.9,503.3 C277.2,494.9 279.4,486.1 282.0,477.5 C284.6,468.9 286.7,460.7 288.4,451.6 C290.1,442.6 291.8,440.3 292.3,423.2 C292.8,406.1 292.0,368.3 291.6,349.1 C291.2,329.9 290.7,322.9 289.8,307.8 C288.9,292.7 287.6,271.8 286.5,258.7 C285.4,245.6 284.7,245.1 283.4,229.5 C282.1,213.9 279.9,184.4 278.7,165.0 C277.5,145.6 277.2,132.7 276.1,113.3 C275.0,93.9 273.2,65.9 272.3,48.7 C271.4,31.5 271.2,16.4 271.0,10.0" stroke="#8c564b" stroke-dasharray="20.5,10.1" stroke-dashoffset="30.1"/>
</g>
<path d="M1042.2,526.3 L1062.2,546.3 M1042.2,546.3 L1062.2,526.3" stroke="#d62728" stroke-width="2.0" stroke-opacity="0.8" fill="none"/>
<path d="M1069.6,629.8 L1089.6,649.8 M1069.6,649.8 L1089.6,629.8" stroke="#d62728" stroke-width="2.0" stroke-opacity="0.8" fill="none"/>
<path d="M1114.2,606.3 L1134.2,626.3 M1114.2,626.3 L1134.2,606.3" stroke="#9467bd" stroke-width="2.0" stroke-opacity="0.8" fill="none"/>
<path d="M1107.0,641.0 L1127.0,661.0 M1107.0,661.0 L1127.0,641.0" stroke="#9467bd" stroke-width="2.0" stroke-opacity="0.6" fill="none"/>
<path d="M1140.5,650.9 L1160.5,670.9 M1140.5,670.9 L1160.5,650.9" stroke="#3aa935" stroke-width="2.0" stroke-opacity="0.8" fill="none"/>
<path d="M1190.9,645.1 L1210.9,665.1 M1190.9,665.1 L1210.9,645.1" stroke="#3aa935" stroke-width="2.0" stroke-opacity="0.8" fill="none"/>
<path d="M1172.2,658.0 L1192.2,678.0 M1172.2,678.0 L1192.2,658.0" stroke="#5bcfcf" stroke-width="2.0" stroke-opacity="0.8" fill="none"/>
<path d="M1278.5,675.5 L1298.5,695.5 M1278.5,695.5 L1298.5,675.5" stroke="#5bcfcf" stroke-width="2.0" stroke-opacity="0.8" fill="none"/>
<polygon points="1055.0,677.6 1057.7,686.0 1066.6,686.0 1059.4,691.2 1062.2,699.7 1055.0,694.5 1047.8,699.7 1050.6,691.2 1043.4,686.0 1052.3,686.0" fill="none" stroke="#d62728" stroke-width="2.6"/>
<polygon points="1073.2,682.2 1080.8,682.2 1080.8,689.8 1088.2,689.8 1088.2,697.2 1080.8,697.2 1080.8,704.8 1073.2,704.8 1073.2,697.2 1065.8,697.2 1065.8,689.8 1073.2,689.8" fill="none" stroke="#9467bd" stroke-width="2.6"/>
<polygon points="1095.2,685.4 1102.8,685.4 1102.8,692.9 1110.2,692.9 1110.2,700.4 1102.8,700.4 1102.8,707.9 1095.2,707.9 1095.2,700.4 1087.8,700.4 1087.8,692.9 1095.2,692.9" fill="none" stroke="#3aa935" stroke-width="2.6"/>
<rect x="1109.2" y="687.8" width="20.4" height="20.4" fill="none" stroke="#5bcfcf" stroke-width="2.6"/>
<g clip-path="url(#cb)" fill="none" stroke-width="5.5">
<path d="M1055.0,689.8 C1052.2,692.6 1043.2,702.1 1038.5,706.7 C1033.8,711.3 1030.5,713.8 1026.8,717.3 C1023.1,720.8 1019.7,724.3 1016.2,727.8 C1012.7,731.3 1009.4,735.1 1005.7,738.4 C1002.0,741.7 997.9,744.9 994.0,747.8 C990.1,750.7 985.4,753.8 982.2,756.0 C979.0,758.2 976.2,760.2 975.0,761.0" stroke="#d62728" stroke-opacity="0.55" stroke-dasharray="5.5,7.8" stroke-dashoffset="-20.5"/>
<path d="M1099.0,696.6 C1095.8,698.5 1086.5,703.9 1080.0,708.0 C1073.5,712.1 1066.7,716.5 1060.0,721.0 C1053.3,725.5 1046.7,730.2 1040.0,735.0 C1033.3,739.8 1025.3,745.8 1020.0,750.0 C1014.7,754.2 1010.0,758.3 1008.0,760.0" stroke="#3aa935" stroke-opacity="0.55" stroke-dasharray="5.5,7.8" stroke-dashoffset="-10.5"/>
<path d="M1512.0,745.6 C1501.5,743.6 1467.3,737.3 1449.0,733.4 C1430.7,729.5 1417.8,726.2 1402.1,722.1 C1386.4,718.0 1369.2,713.1 1355.1,708.9 C1341.0,704.7 1328.7,700.6 1317.6,696.7 C1306.5,692.8 1297.4,688.3 1288.5,685.5 C1279.6,682.7 1272.2,681.9 1264.3,679.7 C1256.3,677.5 1250.6,674.6 1240.8,672.2 C1231.0,669.9 1215.4,666.3 1205.6,665.6 C1195.8,664.9 1193.9,664.9 1182.2,668.0 C1170.5,671.1 1145.7,679.3 1135.2,684.4 C1124.8,689.5 1122.1,696.1 1119.5,698.5" stroke="#5bcfcf" stroke-linejoin="round"/>
<path d="M1239.7,672.2 C1236.0,670.3 1223.9,663.8 1217.4,660.9 C1210.9,658.0 1206.0,656.5 1200.9,655.1 C1195.8,653.7 1192.0,652.9 1186.9,652.7 C1181.8,652.5 1176.5,652.5 1170.4,653.9 C1164.3,655.3 1158.3,657.0 1150.5,660.9 C1142.7,664.8 1132.2,671.5 1123.5,677.4 C1114.8,683.3 1102.6,693.1 1098.4,696.2" stroke="#3aa935" stroke-linejoin="round"/>
<path d="M1103.1,569.4 C1105.2,573.7 1112.5,587.4 1116.0,595.2 C1119.5,603.0 1122.6,610.4 1124.2,616.3 C1125.8,622.2 1126.0,624.9 1125.4,630.4 C1124.8,635.9 1123.1,643.7 1120.7,649.2 C1118.3,654.7 1116.0,658.2 1111.3,663.3 C1106.6,668.4 1098.4,674.6 1092.5,679.7 C1086.6,684.8 1078.8,691.4 1076.1,693.8" stroke="#9467bd" stroke-linejoin="round"/>
<path d="M982.7,78.0 C983.6,90.0 985.5,123.0 987.9,150.0 C990.3,177.0 994.3,214.8 996.9,239.8 C999.5,264.8 1000.3,278.2 1003.3,300.0 C1006.3,321.8 1011.6,350.8 1015.1,370.4 C1018.6,390.0 1020.2,395.8 1024.5,417.4 C1028.8,439.0 1035.0,476.2 1040.9,500.0 C1046.8,523.8 1054.2,544.1 1059.7,560.0 C1065.2,575.9 1070.3,584.2 1073.8,595.2 C1077.3,606.2 1079.8,618.3 1080.8,625.7 C1081.8,633.1 1080.4,634.3 1079.6,639.8 C1078.8,645.3 1078.6,652.3 1076.1,658.6 C1073.6,664.9 1068.1,672.4 1064.4,677.4 C1060.7,682.4 1055.6,686.7 1053.8,688.6" stroke="#d62728" stroke-linejoin="round"/>
</g>
<text x="138.2" y="63.4" font-size="26.5">fractional</text>
<text x="138.2" y="92.9" font-size="26.5">(to 99%)</text>
<text x="323.1" y="150.8" font-size="23.0">cpx</text>
<text x="323.1" y="175.3" font-size="23.0">(aeg)</text>
<text x="975.2" y="332.9" font-size="23.0">cpx</text>
<text x="975.2" y="357.5" font-size="23.0">(aeg)</text>
<text x="679.7" y="232.2" font-size="23.0">fsp</text>
<text x="679.7" y="256.2" font-size="23.0">(ab)</text>
<text x="1480.5" y="433" font-size="23.0">fsp</text>
<text x="1480.5" y="457" font-size="23.0">(ab)</text>
<text x="117.5" y="708.5" font-size="23.0">ol</text>
<text x="117.5" y="734.5" font-size="23.0">(Fo<tspan font-size="16.6" dy="4.6">90</tspan><tspan dy="-4.6">)</tspan></text>
<text x="186.5" y="709.5" font-size="23.0">fsp</text>
<text x="186.5" y="734.5" font-size="23.0">(an)</text>
<text x="244.5" y="735.9" font-size="23.0">cpx (hd)</text>
<text x="361.5" y="735.9" font-size="23.0">cpx (di)</text>
<rect x="225.2" y="453.7" width="136.4" height="244.2" fill="none" stroke="#cccccc" stroke-width="2.5"/>
<text x="293" y="693.3" font-size="23.0" fill="#808080">inset</text>
<text x="1037.4" y="135" font-size="26.85">batch crystallisation of final melt (90% frac.)</text>
<rect x="1239.7" y="164.6" width="21.3" height="21.3" fill="none" stroke="#000" stroke-width="2.1"/>
<polygon points="1247.1,202.2 1253.9,202.2 1253.9,209.1 1260.8,209.1 1260.8,215.9 1253.9,215.9 1253.9,222.8 1247.1,222.8 1247.1,215.9 1240.2,215.9 1240.2,209.1 1247.1,209.1" fill="none" stroke="#000" stroke-width="2.1"/>
<polygon points="1250.5,237.6 1253.2,246.0 1262.1,246.0 1254.9,251.2 1257.7,259.7 1250.5,254.5 1243.3,259.7 1246.1,251.2 1238.9,246.0 1247.8,246.0" fill="none" stroke="#000" stroke-width="2.1"/>
<text x="1279" y="184.1" font-size="26.85">silica-oversaturated melt</text>
<text x="1279" y="221.7" font-size="26.85">silica-saturated melt</text>
<text x="1279" y="258.6" font-size="26.85">silica-undersaturated melt</text>
<text x="979.9" y="552.8" font-size="23.0" font-style="italic">99%</text>
<text x="1016.2" y="656.7" font-size="23.0" font-style="italic">95%</text>
<rect x="524.1" y="25.9" width="279.8" height="108.8" rx="4.5" fill="#fff" fill-opacity="0.85" stroke="#d0d0d0" stroke-width="3.0"/>
<line x1="533.6" y1="44.6" x2="568" y2="44.6" stroke="#b4c832" stroke-width="5.3" stroke-dasharray="21.4,9.4"/>
<text x="576.0" y="53.1" font-size="22.7">1 kbar</text>
<line x1="533.6" y1="78.2" x2="568" y2="78.2" stroke="#3aa935" stroke-width="5.3" stroke-dasharray="21.4,9.4"/>
<text x="576.0" y="86.7" font-size="22.7">4 kbar</text>
<line x1="533.6" y1="111.7" x2="568" y2="111.7" stroke="#d62728" stroke-width="5.3" stroke-dasharray="21.4,9.4"/>
<text x="576.0" y="120.2" font-size="22.7">5 kbar</text>
<line x1="665.1" y1="44.6" x2="699.5" y2="44.6" stroke="#000080" stroke-width="5.3" stroke-dasharray="21.4,9.4"/>
<text x="707.5" y="53.1" font-size="22.7">6 kbar</text>
<line x1="665.1" y1="78.2" x2="699.5" y2="78.2" stroke="#da70d6" stroke-width="5.3" stroke-dasharray="21.4,9.4"/>
<text x="707.5" y="86.7" font-size="22.7">7 kbar</text>
<line x1="665.1" y1="111.7" x2="699.5" y2="111.7" stroke="#8c564b" stroke-width="5.3" stroke-dasharray="21.4,9.4"/>
<text x="707.5" y="120.2" font-size="22.7">10 kbar</text>
<rect x="1274.9" y="21.5" width="350.4" height="75.8" rx="4.5" fill="#fff" fill-opacity="0.85" stroke="#d0d0d0" stroke-width="3.0"/>
<line x1="1281.8" y1="40.6" x2="1333.5" y2="40.6" stroke="#5bcfcf" stroke-width="5.6"/>
<text x="1349.4" y="48.6" font-size="22.9">3.5 kbar</text>
<line x1="1281.8" y1="75" x2="1333.5" y2="75" stroke="#3aa935" stroke-width="5.6"/>
<text x="1349.4" y="83.1" font-size="22.9">4.0 kbar</text>
<line x1="1454.1" y1="40.6" x2="1505.8" y2="40.6" stroke="#9467bd" stroke-width="5.6"/>
<text x="1521.0" y="48.6" font-size="22.9">4.5 kbar</text>
<line x1="1454.1" y1="75" x2="1505.8" y2="75" stroke="#d62728" stroke-width="5.6"/>
<text x="1521.0" y="83.1" font-size="22.9">5.0 kbar</text>
<rect x="608.0" y="456.9" width="169.7" height="260.9" fill="#fff"/>
<clipPath id="ci"><rect x="608" y="456.9" width="169.7" height="260.9"/></clipPath>
<g clip-path="url(#ci)">
<polygon points="752.4,502.4 739.3,476.1 765.6,476.1" fill="#add8e6" fill-opacity="0.5" stroke="#7a8088" stroke-opacity="0.6" stroke-linejoin="round" stroke-width="3.6"/>
<polygon points="847.3,419.9 834.1,393.6 860.4,393.6" fill="#add8e6" fill-opacity="0.5" stroke="#7a8088" stroke-opacity="0.6" stroke-linejoin="round" stroke-width="3.6"/>
<polygon points="828.8,437.6 815.7,411.3 842.0,411.3" fill="#add8e6" fill-opacity="0.5" stroke="#7a8088" stroke-opacity="0.6" stroke-linejoin="round" stroke-width="3.6"/>
<polygon points="841.1,449.0 828.0,422.7 854.3,422.7" fill="#add8e6" fill-opacity="0.5" stroke="#7a8088" stroke-opacity="0.6" stroke-linejoin="round" stroke-width="3.6"/>
<polygon points="852.5,464.9 839.4,438.6 865.7,438.6" fill="#add8e6" fill-opacity="0.5" stroke="#7a8088" stroke-opacity="0.6" stroke-linejoin="round" stroke-width="3.6"/>
<polygon points="867.8,481.7 854.7,455.4 881.0,455.4" fill="#add8e6" fill-opacity="0.5" stroke="#7a8088" stroke-opacity="0.6" stroke-linejoin="round" stroke-width="3.6"/>
<polygon points="850.8,531.1 837.6,504.8 863.9,504.8" fill="#add8e6" fill-opacity="0.5" stroke="#7a8088" stroke-opacity="0.6" stroke-linejoin="round" stroke-width="3.6"/>
<polygon points="896.9,432.3 883.7,406.0 910.0,406.0" fill="#add8e6" fill-opacity="0.5" stroke="#7a8088" stroke-opacity="0.6" stroke-linejoin="round" stroke-width="3.6"/>
<polygon points="897.3,386.4 884.2,360.1 910.5,360.1" fill="#add8e6" fill-opacity="0.5" stroke="#7a8088" stroke-opacity="0.6" stroke-linejoin="round" stroke-width="3.6"/>
<polygon points="1003.6,388.2 990.5,361.9 1016.8,361.9" fill="#add8e6" fill-opacity="0.5" stroke="#7a8088" stroke-opacity="0.6" stroke-linejoin="round" stroke-width="3.6"/>
<polygon points="1020.1,398.8 1007.0,372.5 1033.3,372.5" fill="#add8e6" fill-opacity="0.5" stroke="#7a8088" stroke-opacity="0.6" stroke-linejoin="round" stroke-width="3.6"/>
<polygon points="635.6,535.0 622.5,508.7 648.8,508.7" fill="#add8e6" fill-opacity="0.5" stroke="#7a8088" stroke-opacity="0.6" stroke-linejoin="round" stroke-width="3.6"/>
<polygon points="711.8,533.7 698.6,507.4 724.9,507.4" fill="#add8e6" fill-opacity="0.5" stroke="#7a8088" stroke-opacity="0.6" stroke-linejoin="round" stroke-width="3.6"/>
<polygon points="741.3,588.1 728.2,561.8 754.5,561.8" fill="#add8e6" fill-opacity="0.5" stroke="#7a8088" stroke-opacity="0.6" stroke-linejoin="round" stroke-width="3.6"/>
<polygon points="752.2,605.2 739.1,578.9 765.4,578.9" fill="#add8e6" fill-opacity="0.5" stroke="#7a8088" stroke-opacity="0.6" stroke-linejoin="round" stroke-width="3.6"/>
<polygon points="623.0,625.4 609.9,599.1 636.2,599.1" fill="#add8e6" fill-opacity="0.5" stroke="#7a8088" stroke-opacity="0.6" stroke-linejoin="round" stroke-width="3.6"/>
<polygon points="689.9,605.2 676.8,578.9 703.1,578.9" fill="#add8e6" fill-opacity="0.5" stroke="#7a8088" stroke-opacity="0.6" stroke-linejoin="round" stroke-width="3.6"/>
<polygon points="685.3,609.6 672.2,583.3 698.5,583.3" fill="#add8e6" fill-opacity="0.5" stroke="#7a8088" stroke-opacity="0.6" stroke-linejoin="round" stroke-width="3.6"/>
<polygon points="680.7,620.6 667.6,594.3 693.9,594.3" fill="#add8e6" fill-opacity="0.5" stroke="#7a8088" stroke-opacity="0.6" stroke-linejoin="round" stroke-width="3.6"/>
<polygon points="718.1,623.6 704.9,597.3 731.2,597.3" fill="#add8e6" fill-opacity="0.5" stroke="#7a8088" stroke-opacity="0.6" stroke-linejoin="round" stroke-width="3.6"/>
<polygon points="713.5,633.3 700.3,607.0 726.6,607.0" fill="#add8e6" fill-opacity="0.5" stroke="#7a8088" stroke-opacity="0.6" stroke-linejoin="round" stroke-width="3.6"/>
<polygon points="680.7,637.7 667.6,611.4 693.9,611.4" fill="#add8e6" fill-opacity="0.5" stroke="#7a8088" stroke-opacity="0.6" stroke-linejoin="round" stroke-width="3.6"/>
<polygon points="713.5,651.7 700.3,625.4 726.6,625.4" fill="#add8e6" fill-opacity="0.5" stroke="#7a8088" stroke-opacity="0.6" stroke-linejoin="round" stroke-width="3.6"/>
<polygon points="680.7,657.9 667.6,631.6 693.9,631.6" fill="#add8e6" fill-opacity="0.5" stroke="#7a8088" stroke-opacity="0.6" stroke-linejoin="round" stroke-width="3.6"/>
<polygon points="757.1,661.0 743.9,634.7 770.2,634.7" fill="#add8e6" fill-opacity="0.5" stroke="#7a8088" stroke-opacity="0.6" stroke-linejoin="round" stroke-width="3.6"/>
<polygon points="710.3,670.6 697.2,644.3 723.5,644.3" fill="#add8e6" fill-opacity="0.5" stroke="#7a8088" stroke-opacity="0.6" stroke-linejoin="round" stroke-width="3.6"/>
<polygon points="711.8,679.8 698.6,653.5 724.9,653.5" fill="#add8e6" fill-opacity="0.5" stroke="#7a8088" stroke-opacity="0.6" stroke-linejoin="round" stroke-width="3.6"/>
<polygon points="640.2,639.4 627.1,613.1 653.4,613.1" fill="#add8e6" fill-opacity="0.5" stroke="#7a8088" stroke-opacity="0.6" stroke-linejoin="round" stroke-width="3.6"/>
<polygon points="638.8,673.7 625.6,647.4 651.9,647.4" fill="#add8e6" fill-opacity="0.5" stroke="#7a8088" stroke-opacity="0.6" stroke-linejoin="round" stroke-width="3.6"/>
<polygon points="665.2,717.1 652.1,690.8 678.4,690.8" fill="#add8e6" fill-opacity="0.5" stroke="#7a8088" stroke-opacity="0.6" stroke-linejoin="round" stroke-width="3.6"/>
<polygon points="699.4,635.9 686.2,609.6 712.5,609.6" fill="#add8e6" fill-opacity="0.5" stroke="#7a8088" stroke-opacity="0.6" stroke-linejoin="round" stroke-width="3.6"/>
<polygon points="608.0,593.4 594.9,567.1 621.1,567.1" fill="#add8e6" fill-opacity="0.5" stroke="#7a8088" stroke-opacity="0.6" stroke-linejoin="round" stroke-width="3.6"/>
<polygon points="582.8,595.1 569.6,568.8 595.9,568.8" fill="#add8e6" fill-opacity="0.5" stroke="#7a8088" stroke-opacity="0.6" stroke-linejoin="round" stroke-width="3.6"/>
<polygon points="587.2,611.4 574.0,585.1 600.3,585.1" fill="#add8e6" fill-opacity="0.5" stroke="#7a8088" stroke-opacity="0.6" stroke-linejoin="round" stroke-width="3.6"/>
<polygon points="575.5,632.9 562.4,606.6 588.7,606.6" fill="#add8e6" fill-opacity="0.5" stroke="#7a8088" stroke-opacity="0.6" stroke-linejoin="round" stroke-width="3.6"/>
<polygon points="594.4,621.0 581.3,594.7 607.6,594.7" fill="#add8e6" fill-opacity="0.5" stroke="#7a8088" stroke-opacity="0.6" stroke-linejoin="round" stroke-width="3.6"/>
<polygon points="552.2,686.8 539.1,660.5 565.4,660.5" fill="#add8e6" fill-opacity="0.5" stroke="#7a8088" stroke-opacity="0.6" stroke-linejoin="round" stroke-width="3.6"/>
<polygon points="538.2,708.8 525.0,682.5 551.3,682.5" fill="#add8e6" fill-opacity="0.5" stroke="#7a8088" stroke-opacity="0.6" stroke-linejoin="round" stroke-width="3.6"/>
<path d="M755.2,513.2 C752.0,516.8 742.3,527.8 736.0,535.0 C729.7,542.2 723.4,550.2 717.6,556.4 C711.8,562.6 704.8,567.7 701.0,572.0 C697.2,576.3 696.5,577.3 695.1,582.0 C693.7,586.7 693.4,594.0 692.5,600.0 C691.6,606.0 691.8,610.9 689.8,618.2 C687.8,625.6 683.6,634.7 680.6,644.1 C677.6,653.5 673.0,668.6 671.5,674.7 C670.0,680.8 669.5,677.5 671.5,680.8 C673.5,684.1 682.7,691.7 683.7,694.5 C684.7,697.3 678.6,697.1 677.6,697.6" fill="none" stroke="#b4c832" stroke-width="3.3" stroke-linejoin="round"/>
<path d="M685.4,509.4 C683.5,513.4 676.8,526.3 674.2,533.4 C671.6,540.5 670.4,543.9 669.9,551.7 C669.4,559.5 671.8,568.2 671.3,580.0 C670.8,591.8 669.4,611.2 666.9,622.7 C664.4,634.2 658.4,641.3 656.2,648.7 C654.0,656.1 653.1,661.1 653.9,667.0 C654.7,672.9 658.1,679.5 660.8,683.8 C663.5,688.1 667.5,690.6 670.0,693.0 C672.5,695.4 675.1,697.4 676.1,698.3" fill="none" stroke="#3aa935" stroke-width="3.3" stroke-linejoin="round"/>
<path d="M672.7,503.8 C671.8,507.6 668.2,516.9 667.1,526.3 C666.0,535.7 666.3,550.5 666.0,560.0 C665.7,569.5 666.5,572.1 665.4,583.1 C664.3,594.1 662.1,614.1 659.3,625.8 C656.5,637.5 650.4,646.2 648.6,653.3 C646.8,660.4 647.3,663.4 648.6,668.5 C649.9,673.6 653.4,679.7 656.2,683.8 C659.0,687.9 662.6,690.5 665.4,693.0 C668.2,695.5 671.7,698.1 673.0,699.1" fill="none" stroke="#d62728" stroke-width="3.3" stroke-linejoin="round"/>
<path d="M664.3,499.6 C664.2,507.2 664.1,531.6 663.5,545.0 C662.9,558.4 662.5,567.0 660.8,580.0 C659.1,593.0 656.0,611.2 653.2,622.7 C650.4,634.2 645.7,641.6 644.0,648.7 C642.3,655.8 642.2,660.1 643.2,665.5 C644.2,670.9 647.2,676.2 650.1,680.8 C653.0,685.4 657.5,689.8 660.8,693.0 C664.1,696.2 668.5,698.7 670.0,699.8" fill="none" stroke="#000080" stroke-width="3.3" stroke-linejoin="round"/>
<path d="M667.1,489.7 C666.6,498.1 665.7,526.1 664.3,540.4 C662.9,554.7 660.3,568.2 658.7,575.6 C657.1,583.0 656.9,576.8 654.7,584.6 C652.5,592.5 648.3,612.5 645.5,622.7 C642.7,632.9 639.3,638.5 637.9,645.6 C636.5,652.7 636.1,659.6 637.1,665.5 C638.1,671.4 640.6,676.0 644.0,680.8 C647.4,685.6 653.6,691.2 657.7,694.5 C661.8,697.8 666.6,699.6 668.4,700.6" fill="none" stroke="#da70d6" stroke-width="3.3" stroke-linejoin="round"/>
<path d="M696.7,472.8 C694.8,481.0 689.1,508.5 685.4,522.1 C681.6,535.7 678.0,543.7 674.2,554.5 C670.5,565.3 666.7,578.8 662.9,586.9 C659.1,595.0 657.4,594.6 651.6,602.9 C645.8,611.2 632.7,628.1 628.0,636.5 C623.3,644.9 623.5,647.4 623.4,653.3 C623.3,659.1 623.5,665.5 627.2,671.6 C630.9,677.7 638.9,684.8 645.5,689.9 C652.1,695.0 663.3,700.1 666.9,702.1" fill="none" stroke="#8c564b" stroke-width="3.3" stroke-linejoin="round"/>
<path d="M676.9,513.6 L693.9,530.6 M676.9,530.6 L693.9,513.6" stroke="#8c564b" stroke-width="2.0" stroke-opacity="1.0" fill="none"/>
<path d="M619.5,628.0 L636.5,645.0 M619.5,645.0 L636.5,628.0" stroke="#8c564b" stroke-width="2.0" stroke-opacity="1.0" fill="none"/>
<path d="M653.7,531.9 L670.7,548.9 M653.7,548.9 L670.7,531.9" stroke="#da70d6" stroke-width="2.0" stroke-opacity="1.0" fill="none"/>
<path d="M632.5,620.5 L649.5,637.5 M632.5,637.5 L649.5,620.5" stroke="#da70d6" stroke-width="2.0" stroke-opacity="1.0" fill="none"/>
<path d="M655.1,536.9 L672.1,553.9 M655.1,553.9 L672.1,536.9" stroke="#000080" stroke-width="2.0" stroke-opacity="1.0" fill="none"/>
<path d="M642.5,624.5 L659.5,641.5 M642.5,641.5 L659.5,624.5" stroke="#000080" stroke-width="2.0" stroke-opacity="1.0" fill="none"/>
<path d="M658.5,537.5 L675.5,554.5 M658.5,554.5 L675.5,537.5" stroke="#d62728" stroke-width="2.0" stroke-opacity="1.0" fill="none"/>
<path d="M650.5,623.5 L667.5,640.5 M650.5,640.5 L667.5,623.5" stroke="#d62728" stroke-width="2.0" stroke-opacity="1.0" fill="none"/>
<path d="M665.5,537.5 L682.5,554.5 M665.5,554.5 L682.5,537.5" stroke="#3aa935" stroke-width="2.0" stroke-opacity="1.0" fill="none"/>
<path d="M658.5,627.5 L675.5,644.5 M658.5,644.5 L675.5,627.5" stroke="#3aa935" stroke-width="2.0" stroke-opacity="1.0" fill="none"/>
<path d="M709.1,547.9 L726.1,564.9 M709.1,564.9 L726.1,547.9" stroke="#b4c832" stroke-width="2.0" stroke-opacity="1.0" fill="none"/>
<path d="M677.5,621.5 L694.5,638.5 M677.5,638.5 L694.5,621.5" stroke="#b4c832" stroke-width="2.0" stroke-opacity="1.0" fill="none"/>
</g>
<text x="694.4" y="700" font-size="23.0">batch</text>
<rect x="608.0" y="456.9" width="169.7" height="260.9" fill="none" stroke="#000" stroke-width="2"/>
<line x1="644.4" y1="456.9" x2="644.4" y2="469.9" stroke="#000" stroke-width="2"/>
<line x1="644.4" y1="717.8" x2="644.4" y2="704.8" stroke="#000" stroke-width="2"/>
<text x="644.4" y="747.8" text-anchor="middle" font-size="23.0">47.5</text>
<line x1="705.0" y1="456.9" x2="705.0" y2="469.9" stroke="#000" stroke-width="2"/>
<line x1="705.0" y1="717.8" x2="705.0" y2="704.8" stroke="#000" stroke-width="2"/>
<text x="705.0" y="747.8" text-anchor="middle" font-size="23.0">50.0</text>
<line x1="765.6" y1="456.9" x2="765.6" y2="469.9" stroke="#000" stroke-width="2"/>
<line x1="765.6" y1="717.8" x2="765.6" y2="704.8" stroke="#000" stroke-width="2"/>
<text x="765.6" y="747.8" text-anchor="middle" font-size="23.0">52.5</text>
<line x1="608.0" y1="690.8" x2="621.0" y2="690.8" stroke="#000" stroke-width="2"/>
<line x1="777.7" y1="690.8" x2="764.7" y2="690.8" stroke="#000" stroke-width="2"/>
<text x="792.2" y="699.0" font-size="23.0">2</text>
<line x1="608.0" y1="603.0" x2="621.0" y2="603.0" stroke="#000" stroke-width="2"/>
<line x1="777.7" y1="603.0" x2="764.7" y2="603.0" stroke="#000" stroke-width="2"/>
<text x="792.2" y="611.2" font-size="23.0">4</text>
<line x1="608.0" y1="515.3" x2="621.0" y2="515.3" stroke="#000" stroke-width="2"/>
<line x1="777.7" y1="515.3" x2="764.7" y2="515.3" stroke="#000" stroke-width="2"/>
<text x="792.2" y="523.5" font-size="23.0">6</text>
<rect x="117.8" y="10.5" width="691.1" height="746.6" fill="none" stroke="#000" stroke-width="2.2"/>
<rect x="947.0" y="10.6" width="690.0" height="746.4" fill="none" stroke="#000" stroke-width="2.2"/>
<line x1="205.4" y1="757.1" x2="205.4" y2="770.5" stroke="#000" stroke-width="2.2"/>
<text x="205.4" y="804.6" text-anchor="middle" font-size="26.5">45</text>
<line x1="302.7" y1="757.1" x2="302.7" y2="770.5" stroke="#000" stroke-width="2.2"/>
<text x="302.7" y="804.6" text-anchor="middle" font-size="26.5">50</text>
<line x1="400.1" y1="757.1" x2="400.1" y2="770.5" stroke="#000" stroke-width="2.2"/>
<text x="400.1" y="804.6" text-anchor="middle" font-size="26.5">55</text>
<line x1="497.4" y1="757.1" x2="497.4" y2="770.5" stroke="#000" stroke-width="2.2"/>
<text x="497.4" y="804.6" text-anchor="middle" font-size="26.5">60</text>
<line x1="594.8" y1="757.1" x2="594.8" y2="770.5" stroke="#000" stroke-width="2.2"/>
<text x="594.8" y="804.6" text-anchor="middle" font-size="26.5">65</text>
<line x1="692.1" y1="757.1" x2="692.1" y2="770.5" stroke="#000" stroke-width="2.2"/>
<text x="692.1" y="804.6" text-anchor="middle" font-size="26.5">70</text>
<line x1="789.4" y1="757.1" x2="789.4" y2="770.5" stroke="#000" stroke-width="2.2"/>
<text x="789.4" y="804.6" text-anchor="middle" font-size="26.5">75</text>
<line x1="104.4" y1="757.1" x2="117.8" y2="757.1" stroke="#000" stroke-width="2.2"/>
<text x="89.5" y="767.4" text-anchor="end" font-size="26.5">0</text>
<line x1="104.4" y1="674.1" x2="117.8" y2="674.1" stroke="#000" stroke-width="2.2"/>
<text x="89.5" y="684.4" text-anchor="end" font-size="26.5">2</text>
<line x1="104.4" y1="591.2" x2="117.8" y2="591.2" stroke="#000" stroke-width="2.2"/>
<text x="89.5" y="601.5" text-anchor="end" font-size="26.5">4</text>
<line x1="104.4" y1="508.2" x2="117.8" y2="508.2" stroke="#000" stroke-width="2.2"/>
<text x="89.5" y="518.5" text-anchor="end" font-size="26.5">6</text>
<line x1="104.4" y1="425.3" x2="117.8" y2="425.3" stroke="#000" stroke-width="2.2"/>
<text x="89.5" y="435.6" text-anchor="end" font-size="26.5">8</text>
<line x1="104.4" y1="342.3" x2="117.8" y2="342.3" stroke="#000" stroke-width="2.2"/>
<text x="89.5" y="352.6" text-anchor="end" font-size="26.5">10</text>
<line x1="104.4" y1="259.4" x2="117.8" y2="259.4" stroke="#000" stroke-width="2.2"/>
<text x="89.5" y="269.7" text-anchor="end" font-size="26.5">12</text>
<line x1="104.4" y1="176.4" x2="117.8" y2="176.4" stroke="#000" stroke-width="2.2"/>
<text x="89.5" y="186.7" text-anchor="end" font-size="26.5">14</text>
<line x1="104.4" y1="93.5" x2="117.8" y2="93.5" stroke="#000" stroke-width="2.2"/>
<text x="89.5" y="103.8" text-anchor="end" font-size="26.5">16</text>
<line x1="104.4" y1="10.5" x2="117.8" y2="10.5" stroke="#000" stroke-width="2.2"/>
<text x="89.5" y="20.8" text-anchor="end" font-size="26.5">18</text>
<line x1="947.0" y1="757.0" x2="947.0" y2="770.4" stroke="#000" stroke-width="2.2"/>
<text x="947.0" y="804.5" text-anchor="middle" font-size="26.5">50</text>
<line x1="1085.0" y1="757.0" x2="1085.0" y2="770.4" stroke="#000" stroke-width="2.2"/>
<text x="1085.0" y="804.5" text-anchor="middle" font-size="26.5">55</text>
<line x1="1223.0" y1="757.0" x2="1223.0" y2="770.4" stroke="#000" stroke-width="2.2"/>
<text x="1223.0" y="804.5" text-anchor="middle" font-size="26.5">60</text>
<line x1="1361.0" y1="757.0" x2="1361.0" y2="770.4" stroke="#000" stroke-width="2.2"/>
<text x="1361.0" y="804.5" text-anchor="middle" font-size="26.5">65</text>
<line x1="1499.0" y1="757.0" x2="1499.0" y2="770.4" stroke="#000" stroke-width="2.2"/>
<text x="1499.0" y="804.5" text-anchor="middle" font-size="26.5">70</text>
<line x1="1637.0" y1="757.0" x2="1637.0" y2="770.4" stroke="#000" stroke-width="2.2"/>
<text x="1637.0" y="804.5" text-anchor="middle" font-size="26.5">75</text>
<line x1="933.6" y1="757.0" x2="947.0" y2="757.0" stroke="#000" stroke-width="2.2"/>
<text x="918.7" y="767.3" text-anchor="end" font-size="26.5">6</text>
<line x1="933.6" y1="657.5" x2="947.0" y2="657.5" stroke="#000" stroke-width="2.2"/>
<text x="918.7" y="667.8" text-anchor="end" font-size="26.5">8</text>
<line x1="933.6" y1="558.0" x2="947.0" y2="558.0" stroke="#000" stroke-width="2.2"/>
<text x="918.7" y="568.3" text-anchor="end" font-size="26.5">10</text>
<line x1="933.6" y1="458.4" x2="947.0" y2="458.4" stroke="#000" stroke-width="2.2"/>
<text x="918.7" y="468.7" text-anchor="end" font-size="26.5">12</text>
<line x1="933.6" y1="358.9" x2="947.0" y2="358.9" stroke="#000" stroke-width="2.2"/>
<text x="918.7" y="369.2" text-anchor="end" font-size="26.5">14</text>
<line x1="933.6" y1="259.4" x2="947.0" y2="259.4" stroke="#000" stroke-width="2.2"/>
<text x="918.7" y="269.7" text-anchor="end" font-size="26.5">16</text>
<line x1="933.6" y1="159.9" x2="947.0" y2="159.9" stroke="#000" stroke-width="2.2"/>
<text x="918.7" y="170.2" text-anchor="end" font-size="26.5">18</text>
<line x1="933.6" y1="60.4" x2="947.0" y2="60.4" stroke="#000" stroke-width="2.2"/>
<text x="918.7" y="70.7" text-anchor="end" font-size="26.5">20</text>
<text x="459.3" y="845.8" text-anchor="middle" font-size="26.8">SiO<tspan font-size="18.5" dy="5">2</tspan><tspan dy="-5"> (wt%)</tspan></text>
<text x="1290.1" y="845.8" text-anchor="middle" font-size="26.8">SiO<tspan font-size="18.5" dy="5">2</tspan><tspan dy="-5"> (wt%)</tspan></text>
<text transform="translate(30.8,385.5) rotate(-90)" text-anchor="middle" font-size="26.8">Na<tspan font-size="18.5" dy="5">2</tspan><tspan dy="-5">O+K</tspan><tspan font-size="18.5" dy="5">2</tspan><tspan dy="-5">O (wt%)</tspan></text>
<text transform="translate(859.7,385.5) rotate(-90)" text-anchor="middle" font-size="26.8">Na<tspan font-size="18.5" dy="5">2</tspan><tspan dy="-5">O+K</tspan><tspan font-size="18.5" dy="5">2</tspan><tspan dy="-5">O (wt%)</tspan></text>
<text x="0.9" y="32.5" font-size="26.4" font-weight="bold">a)</text>
<text x="829.8" y="32.5" font-size="26.4" font-weight="bold">b)</text>
</svg>
</body></html>
